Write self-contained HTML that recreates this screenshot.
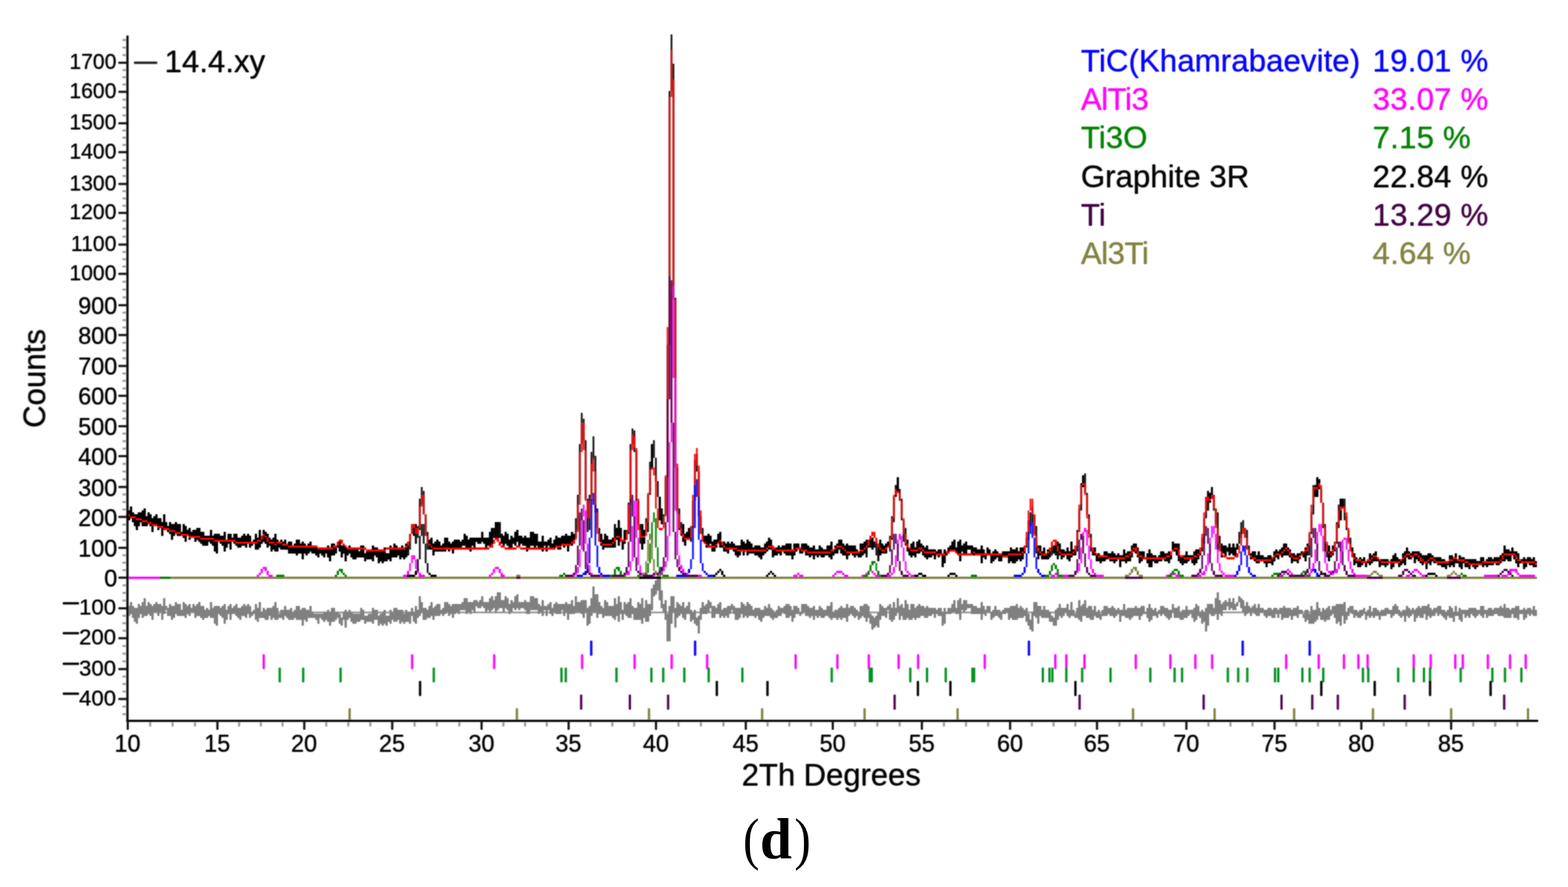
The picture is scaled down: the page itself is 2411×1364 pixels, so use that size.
<!DOCTYPE html>
<html lang="en"><head><meta charset="utf-8"><title>XRD Rietveld refinement (d)</title>
<style>html,body{margin:0;padding:0;background:#fff}svg{display:block}</style></head>
<body>
<svg width="2411" height="1364" viewBox="0 0 2411 1364">
<rect width="2411" height="1364" fill="#fff"/>
<defs><filter id="soft" x="0" y="0" width="100%" height="100%" filterUnits="userSpaceOnUse" color-interpolation-filters="sRGB"><feGaussianBlur in="SourceGraphic" stdDeviation="0.8" result="b"/><feComponentTransfer in="SourceGraphic" result="s"><feFuncA type="linear" slope="0.6"/></feComponentTransfer><feMerge><feMergeNode in="b"/><feMergeNode in="s"/></feMerge></filter></defs>
<g filter="url(#soft)">
<g fill="none" stroke-linejoin="round" stroke-linecap="butt">
<path d="M196.5,788H197V791H196.5ZM197,785H200V800H197ZM200,779H203V797H200ZM203,788H206V803H203ZM206,791H209V809H206ZM209,791H212V815H209ZM212,788H215V809H212ZM215,788H218V803H215ZM218,785H221V809H218ZM221,782H224V809H221ZM224,794H227V809H224ZM227,788H230V806H227ZM230,791H233V809H230ZM233,797H236V818H233ZM236,794H239V806H236ZM239,791H242V806H239ZM242,797H245V815H242ZM245,797H248V809H245ZM248,803H251V824H248ZM251,791H254V815H251ZM254,803H257V812H254ZM257,809H260V818H257ZM260,803H263V821H260ZM263,806H266V830H263ZM266,806H269V824H266ZM269,803H272V821H269ZM272,806H278V824H272ZM278,818H281V824H278ZM281,806H284V827H281ZM284,809H287V833H284ZM287,815H290V824H287ZM290,812H293V830H290ZM293,818H296V824H293ZM296,815H299V824H296ZM299,815H302V833H299ZM302,812H305V830H302ZM305,812H308V833H305ZM308,818H311V836H308ZM311,818H314V839H311ZM314,824H320V839H314ZM320,824H323V833H320ZM323,815H326V836H323ZM326,824H329V839H326ZM329,821H332V848H329ZM332,821H335V851H332ZM335,821H338V833H335ZM338,824H341V836H338ZM341,824H344V839H341ZM344,818H347V848H344ZM347,830H350V842H347ZM350,821H353V836H350ZM353,821H356V845H353ZM356,827H359V833H356ZM359,821H362V836H359ZM362,821H365V839H362ZM365,827H371V842H365ZM371,824H374V839H371ZM374,821H377V839H374ZM377,824H380V842H377ZM380,821H383V836H380ZM383,824H386V842H383ZM386,833H389V839H386ZM389,830H392V836H389ZM392,821H395V845H392ZM395,827H398V845H395ZM398,815H401V842H398ZM401,824H404V836H401ZM404,815H407V833H404ZM407,818H410V836H407ZM410,821H413V842H410ZM413,827H416V839H413ZM416,830H419V848H416ZM419,827H422V845H419ZM422,821H425V848H422ZM425,830H428V848H425ZM428,836H431V842H428ZM431,830H434V845H431ZM434,833H437V845H434ZM437,830H440V845H437ZM440,836H443V845H440ZM443,833H449V851H443ZM449,839H452V851H449ZM452,836H455V851H452ZM455,830H458V854H455ZM458,830H461V851H458ZM461,836H464V851H461ZM464,833H467V860H464ZM467,836H470V851H467ZM470,839H473V854H470ZM473,836H476V851H473ZM476,833H479V848H476ZM479,842H485V851H479ZM485,842H488V854H485ZM488,845H491V857H488ZM491,845H494V851H491ZM494,845H497V854H494ZM497,842H500V857H497ZM500,842H503V851H500ZM503,839H506V857H503ZM506,842H509V863H506ZM509,836H515V854H509ZM515,839H518V851H515ZM518.2,836H520.8V842H518.2ZM521,833H524V848H521ZM524,839H527V857H524ZM527,836H530V851H527ZM530,839H533V863H530ZM533,842H536V854H533ZM536,839H539V851H536ZM539,842H542V857H539ZM542,845H548V860H542ZM548,845H551V857H548ZM551,848H554V857H551ZM554,839H560V857H554ZM560,851H563V863H560ZM563,848H566V860H563ZM566,845H569V860H566ZM569,848H572V860H569ZM572,839H575V863H572ZM575,842H578V854H575ZM578,842H581V857H578ZM581,848H584V866H581ZM584,848H587V863H584ZM587,845H590V866H587ZM590,842H593V863H590ZM593,851H596V863H593ZM596,851H599V860H596ZM599,839H602V863H599ZM602,842H605V857H602ZM605,836H608V857H605ZM608,839H611V857H608ZM611,842H614V854H611ZM614,842H617V860H614ZM617,839H620V857H617ZM620,845H623V860H620ZM623,836H626V857H623ZM626.2,836H628.8V854H626.2ZM629.5,821H631.5V845H629.5ZM632.5,806H634.5V821H632.5ZM635.2,806H637.8V824H635.2ZM638.2,806H640.8V836H638.2ZM641.5,809H643.5V827H641.5ZM644.5,767H646.5V815H644.5ZM647.5,749H649.5V776H647.5ZM650.5,755H652.5V791H650.5ZM653.5,791H655.5V824H653.5ZM656.5,818H658.5V845H656.5ZM659,830H662V845H659ZM662,827H665V845H662ZM665,836H668V854H665ZM668,833H671V848H668ZM671,830H674V848H671ZM674,833H677V848H674ZM677,839H680V848H677ZM680,836H683V848H680ZM683,827H686V848H683ZM686,827H689V842H686ZM689,833H692V848H689ZM692,836H695V845H692ZM695,833H698V851H695ZM698,830H707V845H698ZM707,833H710V842H707ZM710,830H713V839H710ZM713,821H716V839H713ZM716,824H719V845H716ZM719,830H722V842H719ZM722,827H725V848H722ZM725,827H728V839H725ZM728,827H731V842H728ZM731,827H734V833H731ZM734,827H740V836H734ZM740,818H743V833H740ZM743,827H746V836H743ZM746,827H749V845H746ZM749,827H752V839H749ZM752,818H755V842H752ZM755,812H758V836H755ZM758.2,812H760.8V827H758.2ZM761,803H767V827H761ZM767.2,803H769.8V827H767.2ZM770,821H773V836H770ZM773,824H776V842H773ZM776,818H779V836H776ZM779,821H782V839H779ZM782,830H785V845H782ZM785,824H788V845H785ZM788,827H791V836H788ZM791,818H794V839H791ZM794,815H797V833H794ZM797,824H800V839H797ZM800,824H803V836H800ZM803,827H806V839H803ZM806,824H809V839H806ZM809,827H812V848H809ZM812,827H815V845H812ZM815,818H821V839H815ZM821,821H824V842H821ZM824,821H827V839H824ZM827,833H830V845H827ZM830,833H833V842H830ZM833,824H836V848H833ZM836,833H839V839H836ZM839,833H842V848H839ZM842,830H845V839H842ZM845,827H848V845H845ZM848,836H851V845H848ZM851,830H854V842H851ZM854,824H857V842H854ZM857,827H863V845H857ZM863,824H866V836H863ZM866,824H869V842H866ZM869,821H872V836H869ZM872,824H875V848H872ZM875,824H878V839H875ZM878,818H881V839H878ZM881,821H884V833H881ZM884.5,797H886.5V827H884.5ZM887.5,761H889.5V815H887.5ZM890.5,683H892.5V761H890.5ZM893.5,635H895.5V683H893.5ZM896.5,644H898.5V677H896.5ZM899.5,677H901.5V767H899.5ZM902.5,767H904.5V818H902.5ZM905.5,761H907.5V815H905.5ZM908.5,695H910.5V764H908.5ZM911.5,671H913.5V707H911.5ZM914.5,701H916.5V788H914.5ZM917.5,782H919.5V812H917.5ZM920.5,812H922.5V833H920.5ZM923,821H926V839H923ZM926,830H929V845H926ZM929,821H932V842H929ZM932,824H935V842H932ZM935,830H941V842H935ZM941,827H944V842H941ZM944.2,806H946.8V842H944.2ZM947,812H950V830H947ZM950,800H953V839H950ZM953,812H956V830H953ZM956,830H959V845H956ZM959,815H962V836H959ZM962.5,815H964.5V830H962.5ZM965.5,773H967.5V821H965.5ZM968.5,683H970.5V773H968.5ZM971.5,659H973.5V683H971.5ZM974.5,662H976.5V695H974.5ZM977.5,692H979.5V770H977.5ZM980.5,770H982.5V806H980.5ZM983.5,806H985.5V836H983.5ZM986,806H989V845H986ZM989,815H992V836H989ZM992.5,797H994.5V818H992.5ZM995.5,761H997.5V818H995.5ZM998.5,710H1000.5V761H998.5ZM1001,683H1004V719H1001ZM1004.5,677H1006.5V704H1004.5ZM1007.5,704H1009.5V740H1007.5ZM1010.5,740H1012.5V764H1010.5ZM1013,764H1016V800H1013ZM1016.2,782H1018.8V806H1016.2ZM1019.5,791H1021.5V806H1019.5ZM1022.5,734H1024.5V791H1022.5ZM1025.5,530H1027.5V734H1025.5ZM1028.5,140H1030.5V530H1028.5ZM1031.5,53H1033.5V140H1031.5ZM1034.5,98H1036.5V458H1034.5ZM1037.5,458H1039.5V719H1037.5ZM1040.5,719H1042.5V788H1040.5ZM1043.5,782H1045.5V815H1043.5ZM1046.5,803H1048.5V824H1046.5ZM1049,806H1052V833H1049ZM1052,821H1055V839H1052ZM1055,818H1058V830H1055ZM1058,812H1061V830H1058ZM1061.5,809H1063.5V833H1061.5ZM1064.5,770H1066.5V812H1064.5ZM1067.5,707H1069.5V770H1067.5ZM1070.5,698H1072.5V725H1070.5ZM1073.5,725H1075.5V794H1073.5ZM1076.5,794H1078.5V821H1076.5ZM1079.5,812H1081.5V833H1079.5ZM1082,824H1085V836H1082ZM1085,824H1088V842H1085ZM1088,821H1091V839H1088ZM1091,824H1094V836H1091ZM1094,833H1097V848H1094ZM1097,830H1100V848H1097ZM1100,830H1103V842H1100ZM1103,821H1106V836H1103ZM1106,818H1109V842H1106ZM1109.2,833H1111.8V842H1109.2ZM1112,833H1115V848H1112ZM1115,836H1118V848H1115ZM1118,833H1121V851H1118ZM1121,836H1124V845H1121ZM1124,833H1127V842H1124ZM1127,836H1130V848H1127ZM1130,839H1133V854H1130ZM1133,839H1136V857H1133ZM1136,839H1139V854H1136ZM1139,830H1142V848H1139ZM1142,833H1145V854H1142ZM1145,836H1148V848H1145ZM1148,830H1151V854H1148ZM1151,833H1154V851H1151ZM1154,836H1157V851H1154ZM1157,842H1160V851H1157ZM1160,839H1166V854H1160ZM1166,839H1169V857H1166ZM1169,842H1172V860H1169ZM1172,842H1175V854H1172ZM1175,836H1178V851H1175ZM1178,833H1181V848H1178ZM1181,827H1184V845H1181ZM1184,830H1187V845H1184ZM1187,839H1190V857H1187ZM1190,842H1196V854H1190ZM1196,839H1199V851H1196ZM1199,842H1202V854H1199ZM1202,839H1205V845H1202ZM1205,839H1208V851H1205ZM1208,836H1217V854H1208ZM1217,845H1220V860H1217ZM1220,836H1223V854H1220ZM1223,836H1226V848H1223ZM1226,836H1229V845H1226ZM1229,842H1232V851H1229ZM1232,836H1235V851H1232ZM1235,836H1238V848H1235ZM1238,836H1241V854H1238ZM1241,839H1244V854H1241ZM1244,842H1247V857H1244ZM1247,842H1250V854H1247ZM1250,839H1253V860H1250ZM1253,845H1256V854H1253ZM1256,845H1259V857H1256ZM1259,839H1262V854H1259ZM1262,842H1265V857H1262ZM1265,845H1268V857H1265ZM1268,845H1271V854H1268ZM1271,839H1274V854H1271ZM1274,839H1277V857H1274ZM1277,833H1280V860H1277ZM1280,845H1283V854H1280ZM1283,839H1286V851H1283ZM1286,836H1289V851H1286ZM1289,830H1292V845H1289ZM1292,830H1295V851H1292ZM1295,836H1298V854H1295ZM1298,839H1301V854H1298ZM1301,836H1304V860H1301ZM1304,839H1307V854H1304ZM1307,839H1310V851H1307ZM1310,839H1313V854H1310ZM1313,839H1316V857H1313ZM1316,845H1319V854H1316ZM1319,848H1322V857H1319ZM1322,836H1325V857H1322ZM1325,836H1328V854H1325ZM1328,833H1331V851H1328ZM1331.2,830H1333.8V857H1331.2ZM1334.2,830H1336.8V842H1334.2ZM1337.2,830H1339.8V842H1337.2ZM1340,827H1343V845H1340ZM1343.2,833H1345.8V842H1343.2ZM1346.5,833H1348.5V854H1346.5ZM1349.2,839H1351.8V863H1349.2ZM1352,830H1355V854H1352ZM1355,836H1358V851H1355ZM1358,839H1361V851H1358ZM1361,836H1364V851H1361ZM1364,833H1367V839H1364ZM1367.5,824H1369.5V848H1367.5ZM1370.5,794H1372.5V830H1370.5ZM1373.5,764H1375.5V803H1373.5ZM1376.2,746H1378.8V764H1376.2ZM1379,734H1382V755H1379ZM1382.5,752H1384.5V770H1382.5ZM1385.5,767H1387.5V800H1385.5ZM1388.5,800H1390.5V833H1388.5ZM1391.5,812H1393.5V839H1391.5ZM1394.2,830H1396.8V848H1394.2ZM1397,842H1400V854H1397ZM1400,836H1403V857H1400ZM1403,833H1406V854H1403ZM1406,842H1409V857H1406ZM1409,833H1412V851H1409ZM1412,830H1415V851H1412ZM1415,836H1418V848H1415ZM1418,839H1421V854H1418ZM1421,842H1424V857H1421ZM1424,839H1427V860H1424ZM1427,845H1433V857H1427ZM1433,845H1436V854H1433ZM1436,845H1439V860H1436ZM1439,848H1442V854H1439ZM1442,845H1445V857H1442ZM1445,845H1448V854H1445ZM1448,851H1451V872H1448ZM1451,845H1454V866H1451ZM1454,851H1457V854H1454ZM1457,842H1460V851H1457ZM1460,839H1463V848H1460ZM1463,833H1466V845H1463ZM1466,830H1469V845H1466ZM1469,842H1472V851H1469ZM1472,833H1475V851H1472ZM1475,830H1478V863H1475ZM1478,839H1481V848H1478ZM1481,836H1484V851H1481ZM1484,833H1487V851H1484ZM1487,839H1493V845H1487ZM1493,839H1496V851H1493ZM1496,842H1499V854H1496ZM1499,842H1502V851H1499ZM1502,845H1508V854H1502ZM1508,839H1511V866H1508ZM1511,845H1514V857H1511ZM1514,851H1517V860H1514ZM1517,842H1520V851H1517ZM1520,845H1523V854H1520ZM1523,851H1526V866H1523ZM1526,848H1529V863H1526ZM1529,845H1532V860H1529ZM1532,848H1535V857H1532ZM1535,851H1541V863H1535ZM1541,848H1547V857H1541ZM1547,848H1550V854H1547ZM1550,848H1553V866H1550ZM1553,842H1556V863H1553ZM1556,845H1562V866H1556ZM1562,842H1565V863H1562ZM1565,848H1568V860H1565ZM1568,842H1571V863H1568ZM1571,842H1574V860H1571ZM1574.2,842H1576.8V851H1574.2ZM1577.5,827H1579.5V842H1577.5ZM1580.5,800H1582.5V830H1580.5ZM1583.5,788H1585.5V809H1583.5ZM1586.5,779H1588.5V803H1586.5ZM1589.5,791H1591.5V821H1589.5ZM1592.5,809H1594.5V851H1592.5ZM1595.2,839H1597.8V860H1595.2ZM1598,839H1601V854H1598ZM1601,848H1604V860H1601ZM1604,842H1607V860H1604ZM1607,851H1610V860H1607ZM1610,845H1613V860H1610ZM1613.2,845H1615.8V857H1613.2ZM1616.5,842H1618.5V854H1616.5ZM1619,839H1622V851H1619ZM1622.2,836H1624.8V854H1622.2ZM1625.2,833H1627.8V860H1625.2ZM1628,836H1631V854H1628ZM1631,845H1634V860H1631ZM1634,845H1637V857H1634ZM1637,848H1640V854H1637ZM1640,842H1643V860H1640ZM1643,848H1646V863H1643ZM1646,833H1649V857H1646ZM1649,845H1652V854H1649ZM1652.2,845H1654.8V854H1652.2ZM1655.5,815H1657.5V848H1655.5ZM1658.5,782H1660.5V818H1658.5ZM1661.5,743H1663.5V785H1661.5ZM1664,731H1667V749H1664ZM1667.5,728H1669.5V758H1667.5ZM1670.5,758H1672.5V791H1670.5ZM1673.5,791H1675.5V821H1673.5ZM1676.5,821H1678.5V848H1676.5ZM1679.2,842H1681.8V854H1679.2ZM1682,842H1685V854H1682ZM1685,851H1691V863H1685ZM1691,857H1694V866H1691ZM1694,854H1697V863H1694ZM1697,848H1700V863H1697ZM1700,848H1703V860H1700ZM1703,851H1706V857H1703ZM1706,851H1709V863H1706ZM1709,848H1712V863H1709ZM1712,851H1715V866H1712ZM1715,854H1718V863H1715ZM1718,851H1721V860H1718ZM1721,854H1724V872H1721ZM1724,854H1727V863H1724ZM1727,845H1730V863H1727ZM1730,851H1733V866H1730ZM1733,848H1739V863H1733ZM1739.2,839H1741.8V857H1739.2ZM1742,836H1745V848H1742ZM1745,836H1748V851H1745ZM1748.2,842H1750.8V857H1748.2ZM1751,848H1754V866H1751ZM1754,848H1757V863H1754ZM1757,848H1760V860H1757ZM1760,857H1763V860H1760ZM1763,851H1766V866H1763ZM1766,845H1769V872H1766ZM1769,851H1772V872H1769ZM1772,854H1775V863H1772ZM1775,854H1778V866H1775ZM1778,860H1781V866H1778ZM1781,854H1784V863H1781ZM1784,848H1787V863H1784ZM1787,848H1790V860H1787ZM1790,851H1796V863H1790ZM1796,848H1799V866H1796ZM1799,848H1802V860H1799ZM1802,833H1805V848H1802ZM1805,836H1808V848H1805ZM1808,836H1811V854H1808ZM1811.2,836H1813.8V863H1811.2ZM1814,854H1817V866H1814ZM1817,854H1820V869H1817ZM1820,854H1823V866H1820ZM1823,848H1826V866H1823ZM1826,854H1829V863H1826ZM1829,854H1832V860H1829ZM1832,854H1835V866H1832ZM1835,848H1838V869H1835ZM1838,845H1841V866H1838ZM1841,845H1844V860H1841ZM1844.2,848H1846.8V854H1844.2ZM1847.5,827H1849.5V848H1847.5ZM1850.5,797H1852.5V836H1850.5ZM1853.5,764H1855.5V797H1853.5ZM1856.2,755H1858.8V785H1856.2ZM1859,758H1862V773H1859ZM1862.2,749H1864.8V767H1862.2ZM1865.5,761H1867.5V785H1865.5ZM1868.5,782H1870.5V806H1868.5ZM1871.5,788H1873.5V845H1871.5ZM1874.5,824H1876.5V845H1874.5ZM1877.2,836H1879.8V857H1877.2ZM1880,839H1883V851H1880ZM1883,839H1886V854H1883ZM1886,842H1889V848H1886ZM1889,836H1892V854H1889ZM1892,842H1895V851H1892ZM1895,836H1898V854H1895ZM1898,842H1901V854H1898ZM1901,836H1904V845H1901ZM1904.5,818H1906.5V836H1904.5ZM1907.5,803H1909.5V827H1907.5ZM1910.5,800H1912.5V815H1910.5ZM1913.5,812H1915.5V827H1913.5ZM1916.5,815H1918.5V845H1916.5ZM1919.5,839H1921.5V854H1919.5ZM1922,851H1925V860H1922ZM1925,848H1928V857H1925ZM1928,848H1931V863H1928ZM1931,854H1934V866H1931ZM1934,848H1937V866H1934ZM1937,854H1943V860H1937ZM1943,857H1946V866H1943ZM1946,857H1949V872H1946ZM1949,854H1955V866H1949ZM1955,857H1958V869H1955ZM1958,848H1961V863H1958ZM1961,845H1964V857H1961ZM1964,848H1967V860H1964ZM1967,845H1970V854H1967ZM1970,842H1973V857H1970ZM1973,836H1979V854H1973ZM1979,842H1982V854H1979ZM1982,845H1985V857H1982ZM1985,851H1988V866H1985ZM1988,851H1991V863H1988ZM1991,854H1994V863H1991ZM1994,851H1997V866H1994ZM1997,851H2000V860H1997ZM2000,848H2003V854H2000ZM2003,848H2006V857H2003ZM2006,842H2009V863H2006ZM2009.2,836H2011.8V854H2009.2ZM2012.5,821H2014.5V854H2012.5ZM2015.5,788H2017.5V821H2015.5ZM2018.5,746H2020.5V791H2018.5ZM2021,746H2024V764H2021ZM2024,734H2027V764H2024ZM2027,737H2030V752H2027ZM2030.5,752H2032.5V773H2030.5ZM2033.5,773H2035.5V812H2033.5ZM2036.5,806H2038.5V848H2036.5ZM2039.5,836H2041.5V857H2039.5ZM2042,839H2045V863H2042ZM2045,848H2048V857H2045ZM2048.2,839H2050.8V854H2048.2ZM2051.5,833H2053.5V848H2051.5ZM2054.5,803H2056.5V836H2054.5ZM2057.5,776H2059.5V812H2057.5ZM2060,767H2063V800H2060ZM2063,767H2066V782H2063ZM2066.5,767H2068.5V800H2066.5ZM2069.5,794H2071.5V815H2069.5ZM2072.5,815H2074.5V833H2072.5ZM2075.5,827H2077.5V845H2075.5ZM2078.2,842H2080.8V857H2078.2ZM2081,851H2084V869H2081ZM2084,857H2087V866H2084ZM2087,860H2090V872H2087ZM2090,857H2093V872H2090ZM2093,860H2096V869H2093ZM2096,857H2099V866H2096ZM2099,863H2102V872H2099ZM2102,860H2105V866H2102ZM2105,851H2108V869H2105ZM2108,854H2111V866H2108ZM2111,851H2114V863H2111ZM2114,848H2117V863H2114ZM2117,857H2120V863H2117ZM2120,860H2123V872H2120ZM2123,860H2129V869H2123ZM2129,860H2132V872H2129ZM2132,860H2135V869H2132ZM2135,863H2138V866H2135ZM2138,860H2141V875H2138ZM2141,854H2144V872H2141ZM2144,851H2147V866H2144ZM2147,857H2150V866H2147ZM2150,860H2153V872H2150ZM2153,860H2156V869H2153ZM2156,851H2159V866H2156ZM2159,848H2162V869H2159ZM2162,842H2165V857H2162ZM2165,848H2168V860H2165ZM2168,851H2171V860H2168ZM2171,848H2174V857H2171ZM2174,848H2177V866H2174ZM2177,848H2180V860H2177ZM2180,848H2183V863H2180ZM2183,851H2186V866H2183ZM2186,854H2189V869H2186ZM2189,854H2192V866H2189ZM2192,854H2195V875H2192ZM2195,851H2198V866H2195ZM2198,851H2201V869H2198ZM2201,854H2204V863H2201ZM2204,857H2210V866H2204ZM2210,857H2216V869H2210ZM2216,860H2222V872H2216ZM2222,863H2225V875H2222ZM2225,863H2228V869H2225ZM2228,854H2231V872H2228ZM2231,854H2234V869H2231ZM2234,857H2237V872H2234ZM2237,851H2240V866H2237ZM2240,860H2243V866H2240ZM2243,854H2246V872H2243ZM2246,857H2249V875H2246ZM2249,857H2252V866H2249ZM2252,860H2258V872H2252ZM2258,860H2261V875H2258ZM2261,860H2264V869H2261ZM2264,860H2267V872H2264ZM2267,860H2270V875H2267ZM2270,863H2273V872H2270ZM2273,863H2276V869H2273ZM2276,857H2279V869H2276ZM2279,857H2282V872H2279ZM2282,863H2285V869H2282ZM2285,860H2288V872H2285ZM2288,857H2294V869H2288ZM2294,860H2297V869H2294ZM2297,857H2300V866H2297ZM2300,857H2306V869H2300ZM2306,854H2309V866H2306ZM2309,851H2312V863H2309ZM2312,839H2315V863H2312ZM2315,845H2318V860H2315ZM2318,845H2321V863H2318ZM2321,848H2324V863H2321ZM2324,842H2327V854H2324ZM2327,848H2330V860H2327ZM2330,848H2333V866H2330ZM2333,851H2336V872H2333ZM2336,860H2342V866H2336ZM2342,857H2345V875H2342ZM2345,860H2348V872H2345ZM2348,857H2351V866H2348ZM2351,857H2354V869H2351ZM2354,860H2357V869H2354ZM2357,857H2360V872H2357ZM2360,863H2363V872H2360Z" fill="#000" stroke="none"/>
<path d="M194,791H200V794H194ZM200,794H209V797H200ZM209,797H218V800H209ZM218,800H227V803H218ZM227,803H233V806H227ZM233,806H242V809H233ZM242,809H251V812H242ZM251,812H260V815H251ZM260,815H269V818H260ZM269,818H278V821H269ZM278,821H290V824H278ZM290,824H308V827H290ZM308,827H329V830H308ZM329,830H362V833H329ZM362,833H395V836H362ZM395,830H401V833H395ZM401,824H404V830H401ZM404,821H407V824H404ZM407,824H410V827H407ZM410,827H413V833H410ZM413,833H422V836H413ZM422,836H425V839H422ZM425,833H434V836H425ZM434,836H443V839H434ZM443,839H488V842H443ZM488,842H512V845H488ZM512,839H518V842H512ZM518,833H521V839H518ZM521,830H524V833H521ZM524,830H527V836H524ZM527,836H530V839H527ZM530,839H533V842H530ZM533,842H563V845H533ZM563,845H593V848H563ZM593,842H623V845H593ZM623,839H626V842H623ZM626,833H629V839H626ZM629.5,821H631.5V833H629.5ZM632.5,806H634.5V821H632.5ZM635,806H638V812H635ZM638.2,812H640.8V821H638.2ZM641.2,812H643.8V821H641.2ZM644.5,779H646.5V812H644.5ZM647.5,761H649.5V779H647.5ZM650.5,761H652.5V791H650.5ZM653.5,791H655.5V824H653.5ZM656.5,824H658.5V836H656.5ZM659,836H662V839H659ZM662,839H665V842H662ZM665,842H752V845H665ZM752,839H755V842H752ZM755,836H758V842H755ZM758,830H761V836H758ZM761,827H764V830H761ZM764,827H767V833H764ZM767,833H770V839H767ZM770,839H776V842H770ZM776,842H794V845H776ZM794,839H800V842H794ZM800,842H854V845H800ZM854,839H863V842H854ZM863,836H878V839H863ZM878,833H881V836H878ZM881,830H884V836H881ZM884.5,818H886.5V830H884.5ZM887.5,776H889.5V818H887.5ZM890.5,695H892.5V776H890.5ZM893.5,650H895.5V695H893.5ZM896.5,650H898.5V692H896.5ZM899.5,692H901.5V770H899.5ZM902.5,770H904.5V797H902.5ZM905.5,770H907.5V797H905.5ZM908.5,713H910.5V770H908.5ZM911.5,704H913.5V725H911.5ZM914.5,725H916.5V788H914.5ZM917.5,788H919.5V821H917.5ZM920.5,821H922.5V833H920.5ZM923,833H926V836H923ZM926,836H941V839H926ZM941,833H944V836H941ZM944,827H947V833H944ZM947,824H953V827H947ZM953,827H956V833H953ZM956,830H962V833H956ZM962.5,818H964.5V830H962.5ZM965.5,776H967.5V818H965.5ZM968.5,692H970.5V776H968.5ZM971.5,668H973.5V692H971.5ZM974.5,671H976.5V689H974.5ZM977.5,689H979.5V767H977.5ZM980.5,767H982.5V815H980.5ZM983.5,815H985.5V827H983.5ZM986,824H992V827H986ZM992.5,803H994.5V824H992.5ZM995.5,758H997.5V803H995.5ZM998.5,722H1000.5V758H998.5ZM1001,719H1004V722H1001ZM1004.5,719H1006.5V731H1004.5ZM1007.5,731H1009.5V782H1007.5ZM1010.5,782H1012.5V812H1010.5ZM1013,812H1019V815H1013ZM1019.5,794H1021.5V812H1019.5ZM1022.5,731H1024.5V794H1022.5ZM1025.5,503H1027.5V731H1025.5ZM1028.5,149H1030.5V503H1028.5ZM1031.5,77H1033.5V149H1031.5ZM1034.5,122H1036.5V461H1034.5ZM1037.5,461H1039.5V713H1037.5ZM1040.5,713H1042.5V791H1040.5ZM1043.5,791H1045.5V812H1043.5ZM1046.2,812H1048.8V821H1046.2ZM1049,821H1052V827H1049ZM1052,827H1061V830H1052ZM1061.5,809H1063.5V827H1061.5ZM1064.5,761H1066.5V809H1064.5ZM1067.5,698H1069.5V761H1067.5ZM1070.5,689H1072.5V716H1070.5ZM1073.5,716H1075.5V785H1073.5ZM1076.5,785H1078.5V821H1076.5ZM1079.5,821H1081.5V833H1079.5ZM1082,833H1085V836H1082ZM1085,836H1088V839H1085ZM1088,839H1100V842H1088ZM1100,836H1103V839H1100ZM1103,833H1106V836H1103ZM1106,830H1109V833H1106ZM1109,833H1112V839H1109ZM1112,839H1115V842H1112ZM1115,842H1133V845H1115ZM1133,845H1178V848H1133ZM1178,842H1181V845H1178ZM1181,839H1187V842H1181ZM1187,839H1190V845H1187ZM1190,842H1193V845H1190ZM1193,845H1223V848H1193ZM1223,842H1232V845H1223ZM1232,845H1241V848H1232ZM1241,848H1277V851H1241ZM1277,845H1283V848H1277ZM1283,842H1286V845H1283ZM1286,839H1295V842H1286ZM1295,842H1298V845H1295ZM1298,845H1301V848H1298ZM1301,848H1322V851H1301ZM1322,845H1328V848H1322ZM1328,842H1331V845H1328ZM1331,839H1334V842H1331ZM1334.2,830H1336.8V839H1334.2ZM1337,824H1340V830H1337ZM1340,818H1343V824H1340ZM1343.2,818H1345.8V827H1343.2ZM1346.2,827H1348.8V836H1346.2ZM1349,836H1352V842H1349ZM1352,842H1355V845H1352ZM1355,845H1361V848H1355ZM1361,842H1364V845H1361ZM1364,839H1367V842H1364ZM1367.5,827H1369.5V839H1367.5ZM1370.5,797H1372.5V827H1370.5ZM1373.5,761H1375.5V797H1373.5ZM1376.2,752H1378.8V761H1376.2ZM1379,755H1382V758H1379ZM1382.5,758H1384.5V770H1382.5ZM1385.5,770H1387.5V797H1385.5ZM1388.5,797H1390.5V821H1388.5ZM1391.5,821H1393.5V836H1391.5ZM1394,836H1397V842H1394ZM1397,842H1400V845H1397ZM1400,845H1412V848H1400ZM1412,842H1418V845H1412ZM1418,845H1421V848H1418ZM1421,848H1439V851H1421ZM1439,851H1454V854H1439ZM1454,848H1460V851H1454ZM1460,845H1469V848H1460ZM1469,848H1472V851H1469ZM1472,851H1496V854H1472ZM1496,848H1499V851H1496ZM1499,851H1541V854H1499ZM1541,854H1550V857H1541ZM1550,851H1571V854H1550ZM1571,848H1574V851H1571ZM1574.2,839H1576.8V848H1574.2ZM1577.5,818H1579.5V839H1577.5ZM1580.5,785H1582.5V818H1580.5ZM1583.5,767H1585.5V785H1583.5ZM1586.5,767H1588.5V791H1586.5ZM1589.5,791H1591.5V824H1589.5ZM1592.5,824H1594.5V842H1592.5ZM1595,842H1598V848H1595ZM1598,848H1601V851H1598ZM1601,851H1610V854H1601ZM1610,848H1613V851H1610ZM1613,842H1616V848H1613ZM1616.2,833H1618.8V842H1616.2ZM1619,830H1622V833H1619ZM1622.2,830H1624.8V839H1622.2ZM1625.2,839H1627.8V848H1625.2ZM1628,848H1631V851H1628ZM1631,851H1649V854H1631ZM1649,848H1652V851H1649ZM1652.2,839H1654.8V848H1652.2ZM1655.5,818H1657.5V839H1655.5ZM1658.5,776H1660.5V818H1658.5ZM1661.5,746H1663.5V776H1661.5ZM1664,743H1667V746H1664ZM1667.5,743H1669.5V761H1667.5ZM1670.5,761H1672.5V797H1670.5ZM1673.5,797H1675.5V827H1673.5ZM1676.5,827H1678.5V842H1676.5ZM1679,842H1682V848H1679ZM1682,848H1685V851H1682ZM1685,851H1688V854H1685ZM1688,854H1703V857H1688ZM1703,857H1730V860H1703ZM1730,854H1736V857H1730ZM1736,851H1739V854H1736ZM1739,845H1742V851H1739ZM1742,842H1745V845H1742ZM1745,842H1748V848H1745ZM1748,848H1751V854H1748ZM1751,854H1757V857H1751ZM1757,857H1793V860H1757ZM1793,854H1799V857H1793ZM1799,848H1802V854H1799ZM1802,845H1805V848H1802ZM1805,842H1811V845H1805ZM1811.2,845H1813.8V854H1811.2ZM1814,854H1820V857H1814ZM1820,857H1835V860H1820ZM1835,854H1841V857H1835ZM1841,851H1844V854H1841ZM1844.2,842H1846.8V851H1844.2ZM1847.5,821H1849.5V842H1847.5ZM1850.5,788H1852.5V821H1850.5ZM1853.5,764H1855.5V788H1853.5ZM1856,764H1859V770H1856ZM1859,767H1862V770H1859ZM1862,761H1865V767H1862ZM1865.5,761H1867.5V782H1865.5ZM1868.5,782H1870.5V812H1868.5ZM1871.5,812H1873.5V836H1871.5ZM1874.5,836H1876.5V848H1874.5ZM1877,848H1880V854H1877ZM1880,854H1886V857H1880ZM1886,857H1898V860H1886ZM1898,854H1901V857H1898ZM1901,851H1904V857H1901ZM1904.5,839H1906.5V851H1904.5ZM1907.5,821H1909.5V839H1907.5ZM1910.2,812H1912.8V821H1910.2ZM1913.5,812H1915.5V827H1913.5ZM1916.5,827H1918.5V845H1916.5ZM1919.2,845H1921.8V854H1919.2ZM1922,854H1925V857H1922ZM1925,857H1931V860H1925ZM1931,860H1955V863H1931ZM1955,857H1958V860H1955ZM1958,854H1961V857H1958ZM1961,851H1970V854H1961ZM1970,848H1973V851H1970ZM1973,845H1976V848H1973ZM1976,842H1979V845H1976ZM1979,845H1982V848H1979ZM1982,848H1985V854H1982ZM1985,854H1988V857H1985ZM1988,857H1997V860H1988ZM1997,854H2000V857H1997ZM2000,851H2003V854H2000ZM2003,848H2006V851H2003ZM2006,845H2009V848H2006ZM2009.2,839H2011.8V848H2009.2ZM2012.5,818H2014.5V839H2012.5ZM2015.5,776H2017.5V818H2015.5ZM2018.5,749H2020.5V776H2018.5ZM2021,749H2027V752H2021ZM2027,743H2030V749H2027ZM2030.5,746H2032.5V773H2030.5ZM2033.5,773H2035.5V809H2033.5ZM2036.5,809H2038.5V833H2036.5ZM2039.5,833H2041.5V848H2039.5ZM2042,848H2045V851H2042ZM2045,851H2048V854H2045ZM2048,845H2051V851H2048ZM2051.5,833H2053.5V845H2051.5ZM2054.5,806H2056.5V833H2054.5ZM2057.5,785H2059.5V806H2057.5ZM2060,779H2063V785H2060ZM2063,779H2066V782H2063ZM2066.2,779H2068.8V788H2066.2ZM2069.5,788H2071.5V812H2069.5ZM2072.5,812H2074.5V836H2072.5ZM2075.5,836H2077.5V848H2075.5ZM2078.2,848H2080.8V857H2078.2ZM2081,857H2084V860H2081ZM2084,860H2093V863H2084ZM2093,863H2102V866H2093ZM2102,860H2108V863H2102ZM2108,857H2111V860H2108ZM2111,854H2117V857H2111ZM2117,857H2120V860H2117ZM2120,860H2123V863H2120ZM2123,863H2153V866H2123ZM2153,860H2156V863H2153ZM2156,857H2159V860H2156ZM2159,854H2162V857H2159ZM2162,851H2168V854H2162ZM2168,854H2174V857H2168ZM2174,851H2180V854H2174ZM2180,854H2183V857H2180ZM2183,857H2186V863H2183ZM2186,860H2189V863H2186ZM2189,863H2195V866H2189ZM2195,860H2198V863H2195ZM2198,857H2204V860H2198ZM2204,860H2207V863H2204ZM2207,863H2228V866H2207ZM2228,860H2234V863H2228ZM2234,857H2240V860H2234ZM2240,860H2252V863H2240ZM2252,863H2258V866H2252ZM2258,866H2279V869H2258ZM2279,863H2306V866H2279ZM2306,860H2309V863H2306ZM2309,854H2312V860H2309ZM2312,851H2330V854H2312ZM2330,854H2333V860H2330ZM2333,860H2339V863H2333ZM2339,863H2360V866H2339ZM2360,866H2363V869H2360Z" fill="#ff0000" stroke="none"/>
<line x1="196.5" y1="941.8" x2="2363.0" y2="941.8" stroke="#909090" stroke-width="2"/>
<path d="M194,935H197V938H194ZM197,932H200V947H197ZM200,926H203V944H200ZM203,932H206V950H203ZM206,935H209V956H206ZM209,935H212V959H209ZM212,929H215V950H212ZM215,932H218V944H215ZM218,926H221V950H218ZM221,920H224V947H221ZM224,932H227V947H224ZM227,926H230V944H227ZM230,929H233V947H230ZM233,932H236V953H233ZM236,929H239V941H236ZM239,926H242V941H239ZM242,929H245V947H242ZM245,929H248V941H245ZM248,932H251V953H248ZM251,920H254V944H251ZM254,932H257V938H254ZM257,935H260V947H257ZM260,929H263V947H260ZM263,932H266V953H263ZM266,932H269V950H266ZM269,926H272V944H269ZM272,929H278V947H272ZM278,938H281V947H278ZM281,926H284V947H281ZM284,929H287V950H284ZM287,932H290V944H287ZM290,929H293V947H290ZM293,935H296V941H293ZM296,929H299V941H296ZM299,932H302V950H299ZM302,929H305V947H302ZM305,926H308V947H305ZM308,932H311V950H308ZM311,932H314V953H311ZM314,938H317V950H314ZM317,935H320V950H317ZM320,938H323V947H320ZM323,926H326V950H323ZM326,935H329V950H326ZM329,932H332V959H329ZM332,932H335V962H332ZM335,932H338V944H335ZM338,935H341V947H338ZM341,932H344V950H341ZM344,929H347V959H344ZM347,938H350V953H347ZM350,932H353V944H350ZM353,929H356V953H353ZM356,935H359V944H356ZM359,932H362V944H359ZM362,929H365V947H362ZM365,935H368V950H365ZM368,935H371V953H368ZM371,932H374V947H371ZM374,929H377V947H374ZM377,932H380V950H377ZM380,929H383V944H380ZM383,932H386V950H383ZM386,941H389V947H386ZM389,938H392V944H389ZM392,929H395V953H392ZM395,935H398V956H395ZM398,926H401V950H398ZM401,941H404V950H401ZM404,935H407V950H404ZM407,938H410V953H407ZM410,935H413V953H410ZM413,935H416V947H413ZM416,935H419V953H416ZM419,932H422V950H419ZM422,926H425V953H422ZM425,935H428V953H425ZM428,944H431V950H428ZM431,938H434V950H431ZM434,938H437V953H434ZM437,932H440V947H437ZM440,938H443V950H440ZM443,938H446V953H443ZM446,935H449V953H446ZM449,941H452V953H449ZM452,938H455V950H452ZM455,932H461V953H455ZM461,938H464V953H461ZM464,935H467V962H464ZM467,935H470V953H467ZM470,938H473V956H470ZM473,938H476V950H473ZM476,932H479V950H476ZM479,941H482V950H479ZM482,944H485V950H482ZM485,944H488V953H485ZM488,944H491V959H488ZM491,944H494V950H491ZM494,944H497V953H494ZM497,941H500V956H497ZM500,941H503V953H500ZM503,938H506V956H503ZM506,941H509V962H506ZM509,935H515V956H509ZM515,941H518V953H515ZM518,941H521V950H518ZM521,944H524V959H521ZM524,950H527V962H524ZM527,941H530V953H527ZM530,938H533V965H530ZM533,941H536V953H533ZM536,938H539V950H536ZM539,941H542V956H539ZM542,944H548V959H542ZM548,944H554V956H548ZM554,935H557V953H554ZM557,938H560V953H557ZM560,947H563V959H560ZM563,947H566V956H563ZM566,944H572V956H566ZM572,935H575V959H572ZM575,938H581V953H575ZM581,947H584V962H581ZM584,944H587V959H584ZM587,941H590V962H587ZM590,938H593V959H590ZM593,947H596V962H593ZM596,947H599V956H596ZM599,938H602V959H599ZM602,941H605V953H602ZM605,935H611V956H605ZM611,938H614V953H611ZM614,938H617V959H614ZM617,938H620V956H617ZM620,944H623V959H620ZM623,938H626V956H623ZM626,941H629V956H626ZM629,941H632V959H629ZM632,935H635V947H632ZM635,941H638V956H635ZM638,932H641V959H638ZM641,938H644V950H641ZM644,917H647V947H644ZM647,926H650V941H647ZM650,935H656V953H650ZM656,938H659V950H656ZM659,932H662V950H659ZM662,926H665V947H662ZM665,935H668V953H665ZM668,932H671V947H668ZM671,929H677V947H671ZM677,938H680V944H677ZM680,935H683V947H680ZM683,926H686V944H683ZM686,926H689V941H686ZM689,929H692V947H689ZM692,932H695V944H692ZM695,929H698V950H695ZM698,929H701V944H698ZM701,929H704V941H701ZM704,929H707V944H704ZM707,929H710V938H707ZM710,926H713V938H710ZM713,920H716V938H713ZM716,920H719V944H716ZM719,926H722V941H719ZM722,926H725V944H722ZM725,926H728V938H725ZM728,923H731V941H728ZM731,923H734V932H731ZM734,926H737V935H734ZM737,923H740V935H737ZM740,917H743V932H740ZM743,926H746V935H743ZM746,926H749V941H746ZM749,926H752V938H749ZM752,920H755V941H752ZM755,917H758V938H755ZM758,923H761V935H758ZM761,917H764V941H761ZM764,911H767V938H764ZM767,911H770V935H767ZM770,923H773V935H770ZM773,923H776V941H773ZM776,917H779V935H776ZM779,920H782V938H779ZM782,929H785V944H782ZM785,923H788V941H785ZM788,926H791V935H788ZM791,917H794V938H791ZM794,914H797V935H794ZM797,926H800V938H797ZM800,926H806V935H800ZM806,923H809V938H806ZM809,926H815V944H809ZM815,917H821V938H815ZM821,920H827V938H821ZM827,929H830V944H827ZM830,932H833V941H830ZM833,923H836V947H833ZM836,932H839V938H836ZM839,932H842V947H839ZM842,929H845V938H842ZM845,926H848V944H845ZM848,935H851V947H848ZM851,929H854V941H851ZM854,926H857V944H854ZM857,929H863V944H857ZM863,929H866V938H863ZM866,929H869V947H866ZM869,926H872V941H869ZM872,929H875V953H872ZM875,929H878V944H875ZM878,923H881V944H878ZM881,932H884V944H881ZM884,917H887V941H884ZM887,926H893V941H887ZM893,923H896V944H893ZM896,923H899V950H896ZM899,923H902V941H899ZM902,935H905V962H902ZM905,932H908V959H905ZM908,920H911V947H908ZM911,902H914V941H911ZM914,914H917V941H914ZM917,914H920V950H917ZM920,926H923V944H920ZM923,932H926V944H923ZM926,935H929V950H926ZM929,923H932V947H929ZM932,926H935V947H932ZM935,932H941V947H935ZM941,932H944V950H941ZM944,920H947V953H944ZM947,929H950V947H947ZM950,917H953V956H950ZM953,926H956V944H953ZM956,938H959V953H956ZM959,926H962V944H959ZM962,929H965V947H962ZM965,926H968V950H965ZM968,920H971V950H968ZM971,932H974V944H971ZM974,935H980V953H974ZM980,926H983V953H980ZM983,929H986V953H983ZM986,920H989V959H986ZM989,935H992V950H989ZM992,923H995V956H992ZM995,929H998V956H995ZM998,929H1001V947H998ZM1001,905H1004V938H1001ZM1004,899H1007V917H1004ZM1007,893H1010V914H1007ZM1010,884H1013V908H1010ZM1013,890H1016V923H1013ZM1016,908H1019V935H1016ZM1019,929H1022V941H1019ZM1022,923H1025V953H1022ZM1025,944H1028V986H1025ZM1028,932H1031V986H1028ZM1031,917H1034V959H1031ZM1034,917H1037V941H1034ZM1037,935H1040V965H1037ZM1040,926H1043V950H1040ZM1043,929H1046V947H1043ZM1046,932H1049V944H1046ZM1049,926H1052V950H1049ZM1052,935H1055V953H1052ZM1055,932H1058V944H1055ZM1058,926H1061V944H1058ZM1061,938H1064V956H1061ZM1064,941H1067V953H1064ZM1067,938H1070V959H1067ZM1070,950H1073V962H1070ZM1073,947H1076V974H1073ZM1076,935H1079V953H1076ZM1079,926H1082V944H1079ZM1082,932H1085V944H1082ZM1085,929H1088V944H1085ZM1088,923H1091V941H1088ZM1091,926H1094V935H1091ZM1094,932H1100V950H1094ZM1100,935H1103V944H1100ZM1103,929H1106V944H1103ZM1106,926H1109V950H1106ZM1109,938H1112V947H1109ZM1112,935H1115V950H1112ZM1115,935H1118V947H1115ZM1118,932H1121V950H1118ZM1121,932H1124V944H1121ZM1124,929H1127V938H1124ZM1127,932H1130V944H1127ZM1130,935H1136V953H1130ZM1136,935H1139V950H1136ZM1139,926H1142V944H1139ZM1142,929H1145V950H1142ZM1145,932H1148V947H1145ZM1148,926H1151V950H1148ZM1151,929H1154V947H1151ZM1154,932H1157V947H1154ZM1157,938H1160V947H1157ZM1160,935H1163V950H1160ZM1163,935H1166V947H1163ZM1166,935H1169V953H1166ZM1169,938H1172V956H1169ZM1172,938H1175V950H1172ZM1175,932H1178V947H1175ZM1178,935H1181V947H1178ZM1181,929H1184V947H1181ZM1184,935H1187V950H1184ZM1187,938H1190V953H1187ZM1190,941H1193V950H1190ZM1193,938H1196V950H1193ZM1196,932H1199V947H1196ZM1199,935H1202V947H1199ZM1202,935H1205V941H1202ZM1205,932H1208V944H1205ZM1208,929H1214V950H1208ZM1214,932H1217V947H1214ZM1217,938H1220V956H1217ZM1220,932H1223V950H1220ZM1223,932H1226V944H1223ZM1226,935H1229V944H1226ZM1229,941H1232V947H1229ZM1232,929H1235V944H1232ZM1235,929H1238V941H1235ZM1238,929H1241V947H1238ZM1241,932H1244V947H1241ZM1244,935H1247V950H1244ZM1247,935H1250V947H1247ZM1250,932H1253V953H1250ZM1253,938H1256V947H1253ZM1256,938H1259V950H1256ZM1259,932H1262V947H1259ZM1262,935H1265V950H1262ZM1265,938H1268V950H1265ZM1268,938H1271V947H1268ZM1271,932H1274V947H1271ZM1274,932H1277V950H1274ZM1277,926H1280V953H1277ZM1280,941H1283V950H1280ZM1283,938H1286V950H1283ZM1286,938H1289V953H1286ZM1289,935H1292V950H1289ZM1292,932H1295V953H1292ZM1295,935H1301V950H1295ZM1301,929H1304V956H1301ZM1304,935H1307V947H1304ZM1307,932H1310V944H1307ZM1310,932H1313V947H1310ZM1313,935H1316V950H1313ZM1316,938H1319V947H1316ZM1319,941H1322V953H1319ZM1322,932H1325V950H1322ZM1325,932H1328V947H1325ZM1328,929H1331V950H1328ZM1331,929H1334V956H1331ZM1334,932H1337V950H1334ZM1337,944H1340V959H1337ZM1340,947H1343V968H1340ZM1343,950H1346V965H1343ZM1346,947H1349V962H1346ZM1349,941H1352V965H1349ZM1352,929H1355V953H1352ZM1355,932H1358V947H1355ZM1358,935H1361V947H1358ZM1361,935H1364V950H1361ZM1364,932H1367V938H1364ZM1367,929H1370V953H1367ZM1370,935H1373V956H1370ZM1373,926H1376V953H1373ZM1376,935H1379V947H1376ZM1379,920H1382V941H1379ZM1382,932H1385V953H1382ZM1385,929H1388V947H1385ZM1388,935H1391V953H1388ZM1391,923H1394V953H1391ZM1394,929H1397V950H1394ZM1397,938H1400V953H1397ZM1400,929H1403V953H1400ZM1403,929H1406V950H1403ZM1406,935H1409V953H1406ZM1409,932H1412V950H1409ZM1412,929H1415V950H1412ZM1415,932H1421V947H1415ZM1421,935H1424V950H1421ZM1424,932H1427V950H1424ZM1427,935H1433V947H1427ZM1433,935H1436V944H1433ZM1436,935H1439V950H1436ZM1439,938H1442V944H1439ZM1442,935H1448V947H1442ZM1448,941H1451V962H1448ZM1451,935H1454V959H1451ZM1454,941H1457V944H1454ZM1457,935H1463V944H1457ZM1463,929H1466V941H1463ZM1466,923H1469V941H1466ZM1469,935H1472V944H1469ZM1472,923H1475V944H1472ZM1475,920H1478V953H1475ZM1478,929H1481V938H1478ZM1481,923H1484V941H1481ZM1484,923H1487V938H1484ZM1487,929H1493V935H1487ZM1493,929H1496V944H1493ZM1496,932H1502V944H1496ZM1502,935H1508V944H1502ZM1508,926H1511V953H1508ZM1511,932H1514V944H1511ZM1514,938H1517V947H1514ZM1517,932H1523V941H1517ZM1523,941H1526V953H1523ZM1526,938H1529V950H1526ZM1529,932H1532V947H1529ZM1532,938H1535V947H1532ZM1535,938H1538V950H1535ZM1538,941H1541V953H1538ZM1541,938H1544V944H1541ZM1544,935H1547V944H1544ZM1547,935H1550V941H1547ZM1550,935H1553V953H1550ZM1553,932H1556V950H1553ZM1556,932H1562V953H1556ZM1562,929H1565V953H1562ZM1565,935H1568V950H1565ZM1568,932H1571V950H1568ZM1571,935H1574V950H1571ZM1574,938H1577V947H1574ZM1577,935H1580V956H1577ZM1580,944H1583V962H1580ZM1583,953H1586V968H1583ZM1586,941H1589V971H1586ZM1589,926H1592V947H1589ZM1592,926H1595V950H1592ZM1595,932H1598V959H1595ZM1598,932H1601V947H1598ZM1601,938H1604V950H1601ZM1604,932H1607V950H1604ZM1607,938H1613V950H1607ZM1613,941H1616V956H1613ZM1616,947H1619V956H1616ZM1619,950H1622V962H1619ZM1622,938H1625V962H1622ZM1625,935H1628V953H1625ZM1628,929H1631V947H1628ZM1631,935H1634V950H1631ZM1634,935H1637V947H1634ZM1637,935H1640V941H1637ZM1640,929H1643V947H1640ZM1643,938H1646V950H1643ZM1646,926H1649V947H1646ZM1649,938H1652V947H1649ZM1652,944H1655V950H1652ZM1655,935H1658V950H1655ZM1658,923H1661V953H1658ZM1661,932H1664V956H1661ZM1664,929H1667V947H1664ZM1667,923H1670V947H1667ZM1670,935H1673V950H1670ZM1673,932H1676V950H1673ZM1676,932H1679V953H1676ZM1679,938H1682V953H1679ZM1682,932H1685V947H1682ZM1685,941H1688V950H1685ZM1688,938H1691V950H1688ZM1691,944H1694V953H1691ZM1694,938H1697V947H1694ZM1697,932H1703V947H1697ZM1703,935H1706V944H1703ZM1706,935H1709V947H1706ZM1709,932H1712V947H1709ZM1712,935H1715V950H1712ZM1715,938H1718V947H1715ZM1718,935H1721V944H1718ZM1721,938H1724V956H1721ZM1724,938H1727V947H1724ZM1727,929H1730V947H1727ZM1730,938H1733V950H1730ZM1733,935H1736V950H1733ZM1736,935H1739V953H1736ZM1739,935H1742V950H1739ZM1742,935H1745V947H1742ZM1745,932H1748V947H1745ZM1748,935H1751V947H1748ZM1751,935H1754V953H1751ZM1754,932H1757V947H1754ZM1757,932H1760V944H1757ZM1760,941H1763V944H1760ZM1763,935H1766V950H1763ZM1766,929H1769V956H1766ZM1769,935H1772V953H1769ZM1772,938H1775V947H1772ZM1775,935H1778V947H1775ZM1778,941H1781V950H1778ZM1781,938H1784V944H1781ZM1784,932H1787V947H1784ZM1787,932H1790V944H1787ZM1790,935H1793V947H1790ZM1793,935H1796V950H1793ZM1796,938H1799V953H1796ZM1799,938H1802V950H1799ZM1802,929H1805V941H1802ZM1805,935H1811V950H1805ZM1811,932H1814V950H1811ZM1814,941H1817V953H1814ZM1817,938H1820V953H1817ZM1820,938H1823V950H1820ZM1823,932H1826V950H1823ZM1826,938H1829V947H1826ZM1829,938H1832V944H1829ZM1832,938H1835V950H1832ZM1835,935H1838V956H1835ZM1838,929H1841V953H1838ZM1841,932H1844V947H1841ZM1844,941H1847V950H1844ZM1847,938H1850V959H1847ZM1850,941H1853V956H1850ZM1853,935H1856V971H1853ZM1856,929H1859V962H1856ZM1859,929H1862V944H1859ZM1862,929H1865V947H1862ZM1865,935H1868V947H1865ZM1868,920H1871V944H1868ZM1871,911H1874V953H1871ZM1874,923H1877V944H1874ZM1877,929H1880V947H1877ZM1880,926H1883V938H1880ZM1883,923H1886V938H1883ZM1886,926H1889V932H1886ZM1889,920H1892V938H1889ZM1892,926H1895V935H1892ZM1895,920H1898V938H1895ZM1898,929H1901V938H1898ZM1901,926H1904V932H1901ZM1904,917H1907V926H1904ZM1907,920H1910V935H1907ZM1910,923H1913V941H1910ZM1913,932H1916V947H1913ZM1916,926H1919V944H1916ZM1919,932H1922V941H1919ZM1922,935H1925V947H1922ZM1925,932H1928V941H1925ZM1928,929H1931V944H1928ZM1931,935H1934V947H1931ZM1934,929H1937V947H1934ZM1937,935H1943V941H1937ZM1943,938H1946V947H1943ZM1946,938H1949V950H1946ZM1949,935H1955V947H1949ZM1955,938H1958V950H1955ZM1958,935H1961V950H1958ZM1961,935H1964V944H1961ZM1964,938H1967V950H1964ZM1967,935H1970V944H1967ZM1970,935H1973V953H1970ZM1973,932H1976V950H1973ZM1976,935H1982V950H1976ZM1982,935H1985V947H1982ZM1985,938H1988V953H1985ZM1988,935H1994V947H1988ZM1994,932H1997V950H1994ZM1997,938H2003V944H1997ZM2003,944H2006V950H2003ZM2006,938H2009V956H2006ZM2009,938H2012V953H2009ZM2012,944H2015V959H2012ZM2015,932H2018V959H2015ZM2018,938H2021V959H2018ZM2021,938H2024V956H2021ZM2024,926H2027V953H2024ZM2027,935H2030V947H2027ZM2030,941H2033V953H2030ZM2033,935H2036V953H2033ZM2036,938H2039V956H2036ZM2039,935H2042V953H2039ZM2042,932H2045V953H2042ZM2045,938H2048V947H2045ZM2048,932H2051V944H2048ZM2051,932H2054V950H2051ZM2054,929H2057V959H2054ZM2057,929H2060V956H2057ZM2060,929H2063V962H2060ZM2063,929H2066V947H2063ZM2066,926H2069V959H2066ZM2069,941H2072V953H2069ZM2072,935H2075V947H2072ZM2075,932H2078V941H2075ZM2078,932H2081V944H2078ZM2081,938H2084V950H2081ZM2084,938H2087V947H2084ZM2087,941H2090V950H2087ZM2090,938H2093V950H2090ZM2093,938H2096V947H2093ZM2096,935H2099V944H2096ZM2099,941H2102V953H2099ZM2102,938H2105V947H2102ZM2105,932H2108V950H2105ZM2108,941H2111V947H2108ZM2111,935H2114V950H2111ZM2114,935H2117V947H2114ZM2117,938H2120V947H2117ZM2120,941H2123V953H2120ZM2123,938H2129V947H2123ZM2129,935H2132V947H2129ZM2132,935H2135V944H2132ZM2135,938H2138V944H2135ZM2138,938H2141V950H2138ZM2141,932H2144V947H2141ZM2144,929H2147V944H2144ZM2147,932H2150V944H2147ZM2150,938H2153V947H2150ZM2153,941H2156V950H2153ZM2156,938H2159V947H2156ZM2159,938H2162V956H2159ZM2162,932H2165V947H2162ZM2165,935H2168V950H2165ZM2168,938H2171V947H2168ZM2171,935H2174V944H2171ZM2174,938H2177V956H2174ZM2177,935H2180V950H2177ZM2180,932H2183V947H2180ZM2183,935H2186V950H2183ZM2186,932H2189V950H2186ZM2189,932H2192V944H2189ZM2192,932H2195V953H2192ZM2195,929H2198V947H2195ZM2198,935H2201V950H2198ZM2201,938H2204V947H2201ZM2204,935H2207V947H2204ZM2207,935H2210V941H2207ZM2210,932H2213V947H2210ZM2213,932H2216V944H2213ZM2216,938H2219V947H2216ZM2219,938H2222V950H2219ZM2222,941H2225V953H2222ZM2225,938H2228V947H2225ZM2228,932H2231V950H2228ZM2231,935H2234V950H2231ZM2234,941H2237V956H2234ZM2237,932H2240V947H2237ZM2240,941H2243V947H2240ZM2243,935H2246V953H2243ZM2246,938H2249V956H2246ZM2249,938H2252V944H2249ZM2252,938H2255V950H2252ZM2255,938H2258V947H2255ZM2258,935H2261V950H2258ZM2261,935H2264V944H2261ZM2264,935H2267V947H2264ZM2267,935H2270V950H2267ZM2270,938H2273V947H2270ZM2273,938H2276V944H2273ZM2276,932H2279V947H2276ZM2279,932H2282V950H2279ZM2282,938H2285V944H2282ZM2285,938H2288V950H2285ZM2288,935H2294V947H2288ZM2294,938H2297V947H2294ZM2297,935H2303V944H2297ZM2303,935H2306V947H2303ZM2306,932H2309V947H2306ZM2309,935H2312V947H2309ZM2312,929H2315V950H2312ZM2315,935H2321V950H2315ZM2321,938H2324V950H2321ZM2324,935H2327V944H2324ZM2327,935H2330V950H2327ZM2330,932H2333V950H2330ZM2333,932H2336V953H2333ZM2336,938H2342V944H2336ZM2342,935H2345V953H2342ZM2345,938H2348V950H2345ZM2348,935H2351V944H2348ZM2351,935H2354V947H2351ZM2354,938H2357V944H2354ZM2357,932H2360V947H2357ZM2360,938H2363V947H2360Z" fill="#808080" stroke="none"/>
<path d="M196.5,887H887V890H196.5ZM887,884H896V887H887ZM896,881H899V884H896ZM899,878H902V884H899ZM902.5,866H904.5V878H902.5ZM905.5,827H907.5V866H905.5ZM908.5,767H910.5V827H908.5ZM911.5,758H913.5V776H911.5ZM914.5,776H916.5V839H914.5ZM917.5,839H919.5V872H917.5ZM920.2,872H922.8V881H920.2ZM923,881H926V884H923ZM926,884H938V887H926ZM938,887H1040V890H938ZM1040,884H1055V887H1040ZM1055,881H1058V884H1055ZM1058,875H1061V881H1058ZM1061.5,860H1063.5V875H1061.5ZM1064.5,812H1066.5V860H1064.5ZM1067.5,746H1069.5V812H1067.5ZM1070.5,737H1072.5V764H1070.5ZM1073.5,764H1075.5V830H1073.5ZM1076.5,830H1078.5V866H1076.5ZM1079.5,866H1081.5V878H1079.5ZM1082,878H1085V881H1082ZM1085,881H1088V884H1085ZM1088,884H1100V887H1088ZM1100,887H1559V890H1100ZM1559,884H1571V887H1559ZM1571,881H1574V884H1571ZM1574.2,872H1576.8V881H1574.2ZM1577.5,851H1579.5V872H1577.5ZM1580.5,821H1582.5V851H1580.5ZM1583.5,803H1585.5V821H1583.5ZM1586.5,803H1588.5V827H1586.5ZM1589.5,827H1591.5V857H1589.5ZM1592.5,857H1594.5V875H1592.5ZM1595,875H1598V881H1595ZM1598,881H1601V884H1598ZM1601,884H1613V887H1601ZM1613,887H1892V890H1613ZM1892,884H1901V887H1892ZM1901,878H1904V884H1901ZM1904.2,869H1906.8V878H1904.2ZM1907.5,848H1909.5V869H1907.5ZM1910.2,839H1912.8V848H1910.2ZM1913.5,839H1915.5V854H1913.5ZM1916.5,854H1918.5V872H1916.5ZM1919.2,872H1921.8V881H1919.2ZM1922,881H1925V884H1922ZM1925,884H1931V887H1925ZM1931,887H2009V890H1931ZM2009,884H2012V887H2009ZM2012,881H2015V884H2012ZM2015,875H2018V881H2015ZM2018,875H2021V878H2018ZM2021,875H2024V881H2021ZM2024,881H2027V887H2024ZM2027,884H2030V887H2027ZM2030,887H2363V890H2030Z" fill="#0000ff" stroke="none"/>
<path d="M196.5,887H395V890H196.5ZM395,884H398V887H395ZM398,881H401V884H398ZM401,875H404V881H401ZM404,872H407V875H404ZM407,872H410V878H407ZM410,878H413V884H410ZM413,884H419V887H413ZM419,887H620V890H419ZM620,884H626V887H620ZM626,878H629V884H626ZM629.5,866H631.5V878H629.5ZM632.5,854H634.5V866H632.5ZM635,854H638V860H635ZM638.5,860H640.5V875H638.5ZM641,875H644V881H641ZM644,881H647V887H644ZM647,884H653V887H647ZM653,887H752V890H653ZM752,884H755V887H752ZM755,881H758V884H755ZM758,875H761V881H758ZM761,872H767V875H761ZM767,875H770V881H767ZM770,881H773V887H770ZM773,884H776V887H773ZM776,887H872V890H776ZM872,884H884V887H872ZM884,881H887V884H884ZM887.2,872H889.8V881H887.2ZM890.5,845H892.5V872H890.5ZM893.5,794H895.5V845H893.5ZM896.5,776H898.5V794H896.5ZM899.5,785H901.5V836H899.5ZM902.5,836H904.5V869H902.5ZM905.5,869H907.5V881H905.5ZM908,881H911V884H908ZM911,884H926V887H911ZM926,887H947V890H926ZM947,884H962V887H947ZM962,881H965V884H962ZM965,878H968V884H965ZM968.5,863H970.5V878H968.5ZM971.5,809H973.5V863H971.5ZM974.5,770H976.5V809H974.5ZM977.5,770H979.5V827H977.5ZM980.5,827H982.5V869H980.5ZM983.5,869H985.5V881H983.5ZM986,881H992V884H986ZM992,884H1007V887H992ZM1007,881H1016V884H1007ZM1016,878H1019V881H1016ZM1019,872H1022V878H1019ZM1022.2,863H1024.8V872H1022.2ZM1025.5,824H1027.5V863H1025.5ZM1028.5,680H1030.5V824H1028.5ZM1031.5,452H1033.5V680H1031.5ZM1034.5,440H1036.5V581H1034.5ZM1037.5,581H1039.5V785H1037.5ZM1040.5,785H1042.5V854H1040.5ZM1043.5,854H1045.5V869H1043.5ZM1046,869H1049V875H1046ZM1049,875H1052V881H1049ZM1052,881H1058V884H1052ZM1058,884H1079V887H1058ZM1079,887H1220V890H1079ZM1220,884H1226V887H1220ZM1226,881H1229V884H1226ZM1229,884H1235V887H1229ZM1235,887H1280V890H1235ZM1280,884H1283V887H1280ZM1283,881H1286V884H1283ZM1286,878H1295V881H1286ZM1295,881H1298V884H1295ZM1298,884H1304V887H1298ZM1304,887H1325V890H1304ZM1325,884H1331V887H1325ZM1331,881H1334V884H1331ZM1334,878H1337V881H1334ZM1337,875H1340V878H1337ZM1340,878H1343V881H1340ZM1343,881H1346V884H1343ZM1346,884H1370V887H1346ZM1370,881H1373V884H1370ZM1373.2,872H1375.8V881H1373.2ZM1376.5,854H1378.5V872H1376.5ZM1379.5,830H1381.5V854H1379.5ZM1382.2,821H1384.8V830H1382.2ZM1385.5,824H1387.5V842H1385.5ZM1388.5,842H1390.5V863H1388.5ZM1391.5,863H1393.5V878H1391.5ZM1394,878H1397V881H1394ZM1397,881H1400V884H1397ZM1400,884H1412V887H1400ZM1412,887H1616V890H1412ZM1616,884H1622V887H1616ZM1622,881H1625V884H1622ZM1625,884H1652V887H1625ZM1652,881H1655V884H1652ZM1655,878H1658V881H1655ZM1658.5,866H1660.5V878H1658.5ZM1661.5,842H1663.5V866H1661.5ZM1664.5,818H1666.5V842H1664.5ZM1667,812H1670V818H1667ZM1670.5,815H1672.5V839H1670.5ZM1673.5,839H1675.5V860H1673.5ZM1676.5,860H1678.5V875H1676.5ZM1679,875H1682V881H1679ZM1682,881H1685V884H1682ZM1685,884H1697V887H1685ZM1697,887H1793V890H1697ZM1793,884H1799V887H1793ZM1799,881H1808V884H1799ZM1808,884H1814V887H1808ZM1814,887H1832V890H1814ZM1832,884H1847V887H1832ZM1847,881H1850V884H1847ZM1850,878H1853V884H1850ZM1853.2,869H1855.8V878H1853.2ZM1856.5,851H1858.5V869H1856.5ZM1859.5,827H1861.5V851H1859.5ZM1862.5,809H1864.5V827H1862.5ZM1865.5,809H1867.5V821H1865.5ZM1868.5,821H1870.5V845H1868.5ZM1871.5,845H1873.5V866H1871.5ZM1874.5,866H1876.5V878H1874.5ZM1877,878H1880V881H1877ZM1880,881H1883V884H1880ZM1883,884H1898V887H1883ZM1898,887H1964V890H1898ZM1964,884H1973V887H1964ZM1973,881H1976V884H1973ZM1976,878H1979V881H1976ZM1979,875H1982V878H1979ZM1982,878H1985V881H1982ZM1985,881H1988V884H1985ZM1988,884H2012V887H1988ZM2012,881H2015V884H2012ZM2015,875H2018V881H2015ZM2018.2,866H2020.8V875H2018.2ZM2021.5,845H2023.5V866H2021.5ZM2024.5,818H2026.5V845H2024.5ZM2027.5,806H2029.5V818H2027.5ZM2030.5,806H2032.5V824H2030.5ZM2033.5,824H2035.5V848H2033.5ZM2036.5,848H2038.5V866H2036.5ZM2039.5,866H2041.5V878H2039.5ZM2042,878H2048V881H2042ZM2048,881H2051V884H2048ZM2051,878H2054V881H2051ZM2054,875H2057V881H2054ZM2057.2,866H2059.8V875H2057.2ZM2060.5,848H2062.5V866H2060.5ZM2063.5,830H2065.5V848H2063.5ZM2066,827H2069V830H2066ZM2069.5,827H2071.5V845H2069.5ZM2072.5,845H2074.5V863H2072.5ZM2075.5,863H2077.5V875H2075.5ZM2078,875H2081V881H2078ZM2081,881H2084V884H2081ZM2084,884H2102V887H2084ZM2102,887H2162V890H2102ZM2162,884H2168V887H2162ZM2168,881H2171V884H2168ZM2171,878H2174V881H2171ZM2174,875H2180V878H2174ZM2180,878H2183V881H2180ZM2183,881H2186V884H2183ZM2186,884H2192V887H2186ZM2192,887H2282V890H2192ZM2282,884H2303V887H2282ZM2303,887H2309V890H2303ZM2309,884H2318V887H2309ZM2318,881H2321V884H2318ZM2321,875H2324V881H2321ZM2324,875H2330V878H2324ZM2330,875H2333V881H2330ZM2333,881H2336V884H2333ZM2336,884H2360V887H2336ZM2360,887H2363V890H2360Z" fill="#ff00ff" stroke="none"/>
<path d="M246,887H425V890H246ZM425,884H437V887H425ZM437,887H515V890H437ZM515,884H518V887H515ZM518,878H521V884H518ZM521,875H524V878H521ZM524,875H527V881H524ZM527,881H530V884H527ZM530,884H533V887H530ZM533,887H860V890H533ZM860,884H866V887H860ZM866,881H869V884H866ZM869,884H878V887H869ZM878,887H938V890H878ZM938,884H944V887H938ZM944.2,875H946.8V884H944.2ZM947,872H950V875H947ZM950,872H953V878H950ZM953,878H956V884H953ZM956,884H962V887H956ZM962,887H980V890H962ZM980,884H992V887H980ZM992,881H995V884H992ZM995.5,866H997.5V881H995.5ZM998.5,836H1000.5V866H998.5ZM1001.5,803H1003.5V836H1001.5ZM1004.5,788H1006.5V803H1004.5ZM1007.5,797H1009.5V842H1007.5ZM1010.5,842H1012.5V872H1010.5ZM1013.2,872H1015.8V881H1013.2ZM1016,881H1019V884H1016ZM1019,884H1028V887H1019ZM1028,887H1328V890H1028ZM1328,884H1334V887H1328ZM1334,878H1337V884H1334ZM1337.2,869H1339.8V878H1337.2ZM1340,863H1343V869H1340ZM1343,863H1346V866H1343ZM1346.5,866H1348.5V878H1346.5ZM1349,878H1352V884H1349ZM1352,884H1358V887H1352ZM1358,887H1493V890H1358ZM1493,884H1502V887H1493ZM1502,887H1607V890H1502ZM1607,884H1613V887H1607ZM1613,878H1616V884H1613ZM1616.2,869H1618.8V878H1616.2ZM1619,866H1622V869H1619ZM1622,869H1625V875H1622ZM1625.2,875H1627.8V884H1625.2ZM1628,884H1634V887H1628ZM1634,887H1796V890H1634ZM1796,884H1802V887H1796ZM1802,878H1805V884H1802ZM1805,875H1811V878H1805ZM1811,878H1814V884H1811ZM1814,884H1820V887H1814ZM1820,887H1955V890H1820ZM1955,884H1958V887H1955ZM1958,881H1970V884H1958ZM1970,884H1973V887H1970ZM1973,887H1994V890H1973ZM1994,884H2000V887H1994ZM2000,881H2003V884H2000ZM2003,878H2006V881H2003ZM2006,878H2009V884H2006ZM2009,884H2015V887H2009ZM2015,887H2240V890H2015ZM2240,884H2246V887H2240ZM2246,881H2249V884H2246ZM2249,884H2255V887H2249ZM2255,887H2363V890H2255Z" fill="#008000" stroke="none"/>
<path d="M262,887H626V890H262ZM626,884H638V887H626ZM638,878H641V884H638ZM641.5,860H643.5V878H641.5ZM644.5,824H646.5V860H644.5ZM647.5,806H649.5V824H647.5ZM650.5,806H652.5V836H650.5ZM653.5,836H655.5V866H653.5ZM656.5,866H658.5V881H656.5ZM659,881H662V884H659ZM662,884H671V887H662ZM671,887H1097V890H671ZM1097,884H1100V887H1097ZM1100,881H1103V884H1100ZM1103,878H1106V881H1103ZM1106,875H1109V878H1106ZM1109,878H1112V884H1109ZM1112,884H1115V887H1112ZM1115,887H1178V890H1115ZM1178,884H1181V887H1178ZM1181,881H1184V884H1181ZM1184,878H1187V881H1184ZM1187,881H1190V884H1187ZM1190,884H1193V887H1190ZM1193,887H1406V890H1193ZM1406,884H1412V887H1406ZM1412,881H1418V884H1412ZM1418,884H1424V887H1418ZM1424,887H1457V890H1424ZM1457,884H1460V887H1457ZM1460,881H1469V884H1460ZM1469,884H1472V887H1469ZM1472,887H2027V890H1472ZM2027,884H2030V887H2027ZM2030,881H2039V884H2030ZM2039,884H2042V887H2039ZM2042,887H2192V890H2042ZM2192,884H2195V887H2192ZM2195,881H2207V884H2195ZM2207,884H2210V887H2207ZM2210,887H2363V890H2210Z" fill="#000000" stroke="none"/>
<path d="M262,887H869V890H262ZM869,884H881V887H869ZM881,881H884V884H881ZM884.5,869H886.5V881H884.5ZM887.5,839H889.5V869H887.5ZM890.5,788H892.5V839H890.5ZM893.5,782H895.5V800H893.5ZM896.5,800H898.5V848H896.5ZM899.5,848H901.5V875H899.5ZM902,875H905V881H902ZM905,881H908V884H905ZM908,884H923V887H908ZM923,887H941V890H923ZM941,884H959V887H941ZM959,881H962V884H959ZM962.2,872H964.8V881H962.2ZM965.5,833H967.5V872H965.5ZM968.5,767H970.5V833H968.5ZM971.5,761H973.5V794H971.5ZM974.5,794H976.5V857H974.5ZM977.5,857H979.5V878H977.5ZM980,878H983V881H980ZM983,881H986V884H983ZM986,884H1004V887H986ZM1004,881H1013V884H1004ZM1013,878H1016V881H1013ZM1016,872H1019V878H1016ZM1019.5,857H1021.5V872H1019.5ZM1022.5,803H1024.5V857H1022.5ZM1025.5,614H1027.5V803H1025.5ZM1028.5,425H1030.5V614H1028.5ZM1031.5,431H1033.5V650H1031.5ZM1034.5,650H1036.5V818H1034.5ZM1037.5,818H1039.5V860H1037.5ZM1040.5,860H1042.5V872H1040.5ZM1043,872H1046V878H1043ZM1046,878H1049V881H1046ZM1049,881H1055V884H1049ZM1055,884H1073V887H1055ZM1073,887H1355V890H1073ZM1355,884H1364V887H1355ZM1364,881H1367V884H1364ZM1367.5,869H1369.5V881H1367.5ZM1370.5,845H1372.5V869H1370.5ZM1373.5,821H1375.5V845H1373.5ZM1376.5,821H1378.5V836H1376.5ZM1379.5,836H1381.5V863H1379.5ZM1382.5,863H1384.5V878H1382.5ZM1385,878H1388V884H1385ZM1388,884H1397V887H1388ZM1397,887H1643V890H1397ZM1643,884H1652V887H1643ZM1652,878H1655V884H1652ZM1655.5,860H1657.5V878H1655.5ZM1658.5,830H1660.5V860H1658.5ZM1661.2,821H1663.8V830H1661.2ZM1664.5,824H1666.5V851H1664.5ZM1667.5,851H1669.5V872H1667.5ZM1670.2,872H1672.8V881H1670.2ZM1673,881H1676V884H1673ZM1676,884H1685V887H1676ZM1685,887H1832V890H1685ZM1832,884H1841V887H1832ZM1841,881H1844V884H1841ZM1844,875H1847V881H1844ZM1847.5,854H1849.5V875H1847.5ZM1850.5,824H1852.5V854H1850.5ZM1853.5,809H1855.5V824H1853.5ZM1856.5,812H1858.5V836H1856.5ZM1859.5,836H1861.5V866H1859.5ZM1862.5,866H1864.5V878H1862.5ZM1865,878H1868V884H1865ZM1868,884H1880V887H1868ZM1880,887H1964V890H1880ZM1964,884H1967V887H1964ZM1967,881H1970V884H1967ZM1970,878H1979V881H1970ZM1979,881H1982V884H1979ZM1982,884H2006V887H1982ZM2006,881H2009V884H2006ZM2009,875H2012V881H2009ZM2012.5,857H2014.5V875H2012.5ZM2015.5,827H2017.5V857H2015.5ZM2018.5,812H2020.5V827H2018.5ZM2021.5,812H2023.5V836H2021.5ZM2024.5,836H2026.5V863H2024.5ZM2027.5,863H2029.5V878H2027.5ZM2030,878H2033V881H2030ZM2033,881H2036V884H2033ZM2036,884H2045V887H2036ZM2045,881H2048V884H2045ZM2048,878H2051V881H2048ZM2051.5,863H2053.5V878H2051.5ZM2054.5,842H2056.5V863H2054.5ZM2057.2,833H2059.8V842H2057.2ZM2060.5,833H2062.5V848H2060.5ZM2063.5,848H2065.5V869H2063.5ZM2066.2,869H2068.8V878H2066.2ZM2069,878H2072V884H2069ZM2072,884H2084V887H2072ZM2084,887H2150V890H2084ZM2150,884H2156V887H2150ZM2156,878H2159V884H2156ZM2159,875H2165V878H2159ZM2165,878H2168V881H2165ZM2168,881H2171V884H2168ZM2171,884H2177V887H2171ZM2177,887H2303V890H2177ZM2303,884H2306V887H2303ZM2306,881H2309V884H2306ZM2309,878H2312V881H2309ZM2312,875H2318V878H2312ZM2318,878H2321V881H2318ZM2321,881H2324V884H2321ZM2324,884H2327V887H2324ZM2327,887H2363V890H2327Z" fill="#500050" stroke="none"/>
<path d="M262,887H794V890H262ZM794,884H800V887H794ZM800,887H983V890H800ZM983,884H989V887H983ZM989,881H992V884H989ZM992.5,863H994.5V881H992.5ZM995.5,830H997.5V863H995.5ZM998.2,821H1000.8V830H998.2ZM1001.5,827H1003.5V860H1001.5ZM1004.5,860H1006.5V878H1004.5ZM1007,878H1010V884H1007ZM1010,884H1016V887H1010ZM1016,887H1730V890H1016ZM1730,884H1736V887H1730ZM1736,881H1739V884H1736ZM1739,875H1742V881H1739ZM1742,872H1745V875H1742ZM1745,872H1748V878H1745ZM1748,878H1751V884H1748ZM1751,884H1757V887H1751ZM1757,887H2102V890H1757ZM2102,884H2108V887H2102ZM2108,881H2111V884H2108ZM2111,878H2117V881H2111ZM2117,881H2120V884H2117ZM2120,884H2126V887H2120ZM2126,887H2225V890H2126ZM2225,884H2231V887H2225ZM2231,881H2234V884H2231ZM2234,878H2237V881H2234ZM2237,881H2240V884H2237ZM2240,884H2246V887H2240ZM2246,887H2363V890H2246Z" fill="#808040" stroke="none"/>
</g>
<g>
<rect x="907.6" y="985.4" width="3" height="22.7" fill="#0000ff"/>
<rect x="1067.3" y="985.4" width="3" height="22.7" fill="#0000ff"/>
<rect x="1580.6" y="985.4" width="3" height="22.7" fill="#0000ff"/>
<rect x="1909.3" y="985.4" width="3" height="22.7" fill="#0000ff"/>
<rect x="2012.3" y="985.4" width="3" height="22.7" fill="#0000ff"/>
<rect x="404.0" y="1006.4" width="3" height="22.2" fill="#ff00ff"/>
<rect x="632.2" y="1006.4" width="3" height="22.2" fill="#ff00ff"/>
<rect x="758.4" y="1006.4" width="3" height="22.2" fill="#ff00ff"/>
<rect x="893.6" y="1006.4" width="3" height="22.2" fill="#ff00ff"/>
<rect x="974.3" y="1006.4" width="3" height="22.2" fill="#ff00ff"/>
<rect x="1031.3" y="1006.4" width="3" height="22.2" fill="#ff00ff"/>
<rect x="1085.8" y="1006.4" width="3" height="22.2" fill="#ff00ff"/>
<rect x="1221.9" y="1006.4" width="3" height="22.2" fill="#ff00ff"/>
<rect x="1286.1" y="1006.4" width="3" height="22.2" fill="#ff00ff"/>
<rect x="1334.4" y="1006.4" width="3" height="22.2" fill="#ff00ff"/>
<rect x="1380.3" y="1006.4" width="3" height="22.2" fill="#ff00ff"/>
<rect x="1410.2" y="1006.4" width="3" height="22.2" fill="#ff00ff"/>
<rect x="1512.7" y="1006.4" width="3" height="22.2" fill="#ff00ff"/>
<rect x="1621.2" y="1006.4" width="3" height="22.2" fill="#ff00ff"/>
<rect x="1638.1" y="1006.4" width="3" height="22.2" fill="#ff00ff"/>
<rect x="1666.0" y="1006.4" width="3" height="22.2" fill="#ff00ff"/>
<rect x="1744.9" y="1006.4" width="3" height="22.2" fill="#ff00ff"/>
<rect x="1798.1" y="1006.4" width="3" height="22.2" fill="#ff00ff"/>
<rect x="1836.5" y="1006.4" width="3" height="22.2" fill="#ff00ff"/>
<rect x="1862.3" y="1006.4" width="3" height="22.2" fill="#ff00ff"/>
<rect x="1976.2" y="1006.4" width="3" height="22.2" fill="#ff00ff"/>
<rect x="2026.2" y="1006.4" width="3" height="22.2" fill="#ff00ff"/>
<rect x="2065.0" y="1006.4" width="3" height="22.2" fill="#ff00ff"/>
<rect x="2087.2" y="1006.4" width="3" height="22.2" fill="#ff00ff"/>
<rect x="2101.4" y="1006.4" width="3" height="22.2" fill="#ff00ff"/>
<rect x="2172.3" y="1006.4" width="3" height="22.2" fill="#ff00ff"/>
<rect x="2198.4" y="1006.4" width="3" height="22.2" fill="#ff00ff"/>
<rect x="2236.2" y="1006.4" width="3" height="22.2" fill="#ff00ff"/>
<rect x="2247.7" y="1006.4" width="3" height="22.2" fill="#ff00ff"/>
<rect x="2286.3" y="1006.4" width="3" height="22.2" fill="#ff00ff"/>
<rect x="2320.4" y="1006.4" width="3" height="22.2" fill="#ff00ff"/>
<rect x="2344.5" y="1006.4" width="3" height="22.2" fill="#ff00ff"/>
<rect x="428.6" y="1026.9" width="3" height="22.2" fill="#009020"/>
<rect x="464.7" y="1026.9" width="3" height="22.2" fill="#009020"/>
<rect x="522.2" y="1026.9" width="3" height="22.2" fill="#009020"/>
<rect x="665.5" y="1026.9" width="3" height="22.2" fill="#009020"/>
<rect x="861.8" y="1026.9" width="3" height="22.2" fill="#009020"/>
<rect x="868.5" y="1026.9" width="3" height="22.2" fill="#009020"/>
<rect x="946.4" y="1026.9" width="3" height="22.2" fill="#009020"/>
<rect x="1000.1" y="1026.9" width="3" height="22.2" fill="#009020"/>
<rect x="1018.3" y="1026.9" width="3" height="22.2" fill="#009020"/>
<rect x="1050.7" y="1026.9" width="3" height="22.2" fill="#009020"/>
<rect x="1088.2" y="1026.9" width="3" height="22.2" fill="#009020"/>
<rect x="1140.0" y="1026.9" width="3" height="22.2" fill="#009020"/>
<rect x="1277.4" y="1026.9" width="3" height="22.2" fill="#009020"/>
<rect x="1335.9" y="1026.9" width="3" height="22.2" fill="#009020"/>
<rect x="1338.9" y="1026.9" width="3" height="22.2" fill="#009020"/>
<rect x="1398.2" y="1026.9" width="3" height="22.2" fill="#009020"/>
<rect x="1423.9" y="1026.9" width="3" height="22.2" fill="#009020"/>
<rect x="1452.7" y="1026.9" width="3" height="22.2" fill="#009020"/>
<rect x="1493.8" y="1026.9" width="3" height="22.2" fill="#009020"/>
<rect x="1496.3" y="1026.9" width="3" height="22.2" fill="#009020"/>
<rect x="1602.0" y="1026.9" width="3" height="22.2" fill="#009020"/>
<rect x="1612.2" y="1026.9" width="3" height="22.2" fill="#009020"/>
<rect x="1616.7" y="1026.9" width="3" height="22.2" fill="#009020"/>
<rect x="1638.1" y="1026.9" width="3" height="22.2" fill="#009020"/>
<rect x="1662.5" y="1026.9" width="3" height="22.2" fill="#009020"/>
<rect x="1706.1" y="1026.9" width="3" height="22.2" fill="#009020"/>
<rect x="1767.3" y="1026.9" width="3" height="22.2" fill="#009020"/>
<rect x="1804.6" y="1026.9" width="3" height="22.2" fill="#009020"/>
<rect x="1816.1" y="1026.9" width="3" height="22.2" fill="#009020"/>
<rect x="1886.5" y="1026.9" width="3" height="22.2" fill="#009020"/>
<rect x="1902.4" y="1026.9" width="3" height="22.2" fill="#009020"/>
<rect x="1916.4" y="1026.9" width="3" height="22.2" fill="#009020"/>
<rect x="1959.0" y="1026.9" width="3" height="22.2" fill="#009020"/>
<rect x="1964.0" y="1026.9" width="3" height="22.2" fill="#009020"/>
<rect x="2001.1" y="1026.9" width="3" height="22.2" fill="#009020"/>
<rect x="2012.3" y="1026.9" width="3" height="22.2" fill="#009020"/>
<rect x="2033.2" y="1026.9" width="3" height="22.2" fill="#009020"/>
<rect x="2094.2" y="1026.9" width="3" height="22.2" fill="#009020"/>
<rect x="2102.4" y="1026.9" width="3" height="22.2" fill="#009020"/>
<rect x="2148.4" y="1026.9" width="3" height="22.2" fill="#009020"/>
<rect x="2172.3" y="1026.9" width="3" height="22.2" fill="#009020"/>
<rect x="2188.0" y="1026.9" width="3" height="22.2" fill="#009020"/>
<rect x="2197.4" y="1026.9" width="3" height="22.2" fill="#009020"/>
<rect x="2244.5" y="1026.9" width="3" height="22.2" fill="#009020"/>
<rect x="2293.2" y="1026.9" width="3" height="22.2" fill="#009020"/>
<rect x="2312.6" y="1026.9" width="3" height="22.2" fill="#009020"/>
<rect x="2337.8" y="1026.9" width="3" height="22.2" fill="#009020"/>
<rect x="644.4" y="1047.4" width="3" height="22.7" fill="#000000"/>
<rect x="1100.7" y="1047.4" width="3" height="22.7" fill="#000000"/>
<rect x="1178.6" y="1047.4" width="3" height="22.7" fill="#000000"/>
<rect x="1409.9" y="1047.4" width="3" height="22.7" fill="#000000"/>
<rect x="1459.9" y="1047.4" width="3" height="22.7" fill="#000000"/>
<rect x="1652.1" y="1047.4" width="3" height="22.7" fill="#000000"/>
<rect x="2030.2" y="1047.4" width="3" height="22.7" fill="#000000"/>
<rect x="2112.3" y="1047.4" width="3" height="22.7" fill="#000000"/>
<rect x="2197.4" y="1047.4" width="3" height="22.7" fill="#000000"/>
<rect x="2290.5" y="1047.4" width="3" height="22.7" fill="#000000"/>
<rect x="892.1" y="1068.4" width="3" height="22.7" fill="#500050"/>
<rect x="967.0" y="1068.4" width="3" height="22.7" fill="#500050"/>
<rect x="1025.8" y="1068.4" width="3" height="22.7" fill="#500050"/>
<rect x="1374.1" y="1068.4" width="3" height="22.7" fill="#500050"/>
<rect x="1658.5" y="1068.4" width="3" height="22.7" fill="#500050"/>
<rect x="1849.3" y="1068.4" width="3" height="22.7" fill="#500050"/>
<rect x="1969.0" y="1068.4" width="3" height="22.7" fill="#500050"/>
<rect x="2016.3" y="1068.4" width="3" height="22.7" fill="#500050"/>
<rect x="2055.6" y="1068.4" width="3" height="22.7" fill="#500050"/>
<rect x="2158.4" y="1068.4" width="3" height="22.7" fill="#500050"/>
<rect x="2311.4" y="1068.4" width="3" height="22.7" fill="#500050"/>
<rect x="536.1" y="1089.4" width="3" height="19.2" fill="#808040"/>
<rect x="793.3" y="1089.4" width="3" height="19.2" fill="#808040"/>
<rect x="996.4" y="1089.4" width="3" height="19.2" fill="#808040"/>
<rect x="1170.4" y="1089.4" width="3" height="19.2" fill="#808040"/>
<rect x="1327.9" y="1089.4" width="3" height="19.2" fill="#808040"/>
<rect x="1470.9" y="1089.4" width="3" height="19.2" fill="#808040"/>
<rect x="1740.7" y="1089.4" width="3" height="19.2" fill="#808040"/>
<rect x="1866.1" y="1089.4" width="3" height="19.2" fill="#808040"/>
<rect x="1988.4" y="1089.4" width="3" height="19.2" fill="#808040"/>
<rect x="2109.6" y="1089.4" width="3" height="19.2" fill="#808040"/>
<rect x="2229.8" y="1089.4" width="3" height="19.2" fill="#808040"/>
<rect x="2348.0" y="1089.4" width="3" height="19.2" fill="#808040"/>
</g>
<rect x="194.6" y="54.8" width="2.8" height="1055.1000000000001" fill="#000"/>
<rect x="194.6" y="1107.1" width="2170.4" height="2.8" fill="#000"/>
<g>
<rect x="188.4" y="1097.0" width="6.0" height="2.4" fill="#999"/>
<rect x="188.4" y="1085.4" width="6.0" height="2.4" fill="#999"/>
<rect x="182.3" y="1073.5" width="12.5" height="2.8" fill="#111"/>
<rect x="188.4" y="1062.2" width="6.0" height="2.4" fill="#999"/>
<rect x="188.4" y="1050.7" width="6.0" height="2.4" fill="#999"/>
<rect x="188.4" y="1039.2" width="6.0" height="2.4" fill="#999"/>
<rect x="182.3" y="1027.5" width="12.5" height="2.8" fill="#111"/>
<rect x="188.4" y="1015.8" width="6.0" height="2.4" fill="#999"/>
<rect x="188.4" y="1004.0" width="6.0" height="2.4" fill="#999"/>
<rect x="188.4" y="992.1" width="6.0" height="2.4" fill="#999"/>
<rect x="182.3" y="980.0" width="12.5" height="2.8" fill="#111"/>
<rect x="188.4" y="968.7" width="6.0" height="2.4" fill="#999"/>
<rect x="188.4" y="957.2" width="6.0" height="2.4" fill="#999"/>
<rect x="188.4" y="945.7" width="6.0" height="2.4" fill="#999"/>
<rect x="182.3" y="934.0" width="12.5" height="2.8" fill="#111"/>
<rect x="188.4" y="922.4" width="6.0" height="2.4" fill="#999"/>
<rect x="188.4" y="910.6" width="6.0" height="2.4" fill="#999"/>
<rect x="188.4" y="898.9" width="6.0" height="2.4" fill="#999"/>
<rect x="182.3" y="886.9" width="12.5" height="2.8" fill="#111"/>
<rect x="188.4" y="875.6" width="6.0" height="2.4" fill="#999"/>
<rect x="188.4" y="864.1" width="6.0" height="2.4" fill="#999"/>
<rect x="188.4" y="852.7" width="6.0" height="2.4" fill="#999"/>
<rect x="182.3" y="841.0" width="12.5" height="2.8" fill="#111"/>
<rect x="188.4" y="829.3" width="6.0" height="2.4" fill="#999"/>
<rect x="188.4" y="817.4" width="6.0" height="2.4" fill="#999"/>
<rect x="188.4" y="805.6" width="6.0" height="2.4" fill="#999"/>
<rect x="182.3" y="793.5" width="12.5" height="2.8" fill="#111"/>
<rect x="188.4" y="782.2" width="6.0" height="2.4" fill="#999"/>
<rect x="188.4" y="770.7" width="6.0" height="2.4" fill="#999"/>
<rect x="188.4" y="759.2" width="6.0" height="2.4" fill="#999"/>
<rect x="182.3" y="747.5" width="12.5" height="2.8" fill="#111"/>
<rect x="188.4" y="735.8" width="6.0" height="2.4" fill="#999"/>
<rect x="188.4" y="723.9" width="6.0" height="2.4" fill="#999"/>
<rect x="188.4" y="712.1" width="6.0" height="2.4" fill="#999"/>
<rect x="182.3" y="700.0" width="12.5" height="2.8" fill="#111"/>
<rect x="188.4" y="688.7" width="6.0" height="2.4" fill="#999"/>
<rect x="188.4" y="677.2" width="6.0" height="2.4" fill="#999"/>
<rect x="188.4" y="665.7" width="6.0" height="2.4" fill="#999"/>
<rect x="182.3" y="654.0" width="12.5" height="2.8" fill="#111"/>
<rect x="188.4" y="642.5" width="6.0" height="2.4" fill="#999"/>
<rect x="188.4" y="630.8" width="6.0" height="2.4" fill="#999"/>
<rect x="188.4" y="619.2" width="6.0" height="2.4" fill="#999"/>
<rect x="182.3" y="607.3" width="12.5" height="2.8" fill="#111"/>
<rect x="188.4" y="596.0" width="6.0" height="2.4" fill="#999"/>
<rect x="188.4" y="584.5" width="6.0" height="2.4" fill="#999"/>
<rect x="188.4" y="573.1" width="6.0" height="2.4" fill="#999"/>
<rect x="182.3" y="561.4" width="12.5" height="2.8" fill="#111"/>
<rect x="188.4" y="549.7" width="6.0" height="2.4" fill="#999"/>
<rect x="188.4" y="537.8" width="6.0" height="2.4" fill="#999"/>
<rect x="188.4" y="525.9" width="6.0" height="2.4" fill="#999"/>
<rect x="182.3" y="513.8" width="12.5" height="2.8" fill="#111"/>
<rect x="188.4" y="502.5" width="6.0" height="2.4" fill="#999"/>
<rect x="188.4" y="491.1" width="6.0" height="2.4" fill="#999"/>
<rect x="188.4" y="479.6" width="6.0" height="2.4" fill="#999"/>
<rect x="182.3" y="467.9" width="12.5" height="2.8" fill="#111"/>
<rect x="188.4" y="456.1" width="6.0" height="2.4" fill="#999"/>
<rect x="188.4" y="444.0" width="6.0" height="2.4" fill="#999"/>
<rect x="188.4" y="432.0" width="6.0" height="2.4" fill="#999"/>
<rect x="182.3" y="419.7" width="12.5" height="2.8" fill="#111"/>
<rect x="188.4" y="408.7" width="6.0" height="2.4" fill="#999"/>
<rect x="188.4" y="397.4" width="6.0" height="2.4" fill="#999"/>
<rect x="188.4" y="386.2" width="6.0" height="2.4" fill="#999"/>
<rect x="182.3" y="374.7" width="12.5" height="2.8" fill="#111"/>
<rect x="188.4" y="362.7" width="6.0" height="2.4" fill="#999"/>
<rect x="188.4" y="350.6" width="6.0" height="2.4" fill="#999"/>
<rect x="188.4" y="338.4" width="6.0" height="2.4" fill="#999"/>
<rect x="182.3" y="326.0" width="12.5" height="2.8" fill="#111"/>
<rect x="188.4" y="315.1" width="6.0" height="2.4" fill="#999"/>
<rect x="188.4" y="303.9" width="6.0" height="2.4" fill="#999"/>
<rect x="188.4" y="292.8" width="6.0" height="2.4" fill="#999"/>
<rect x="182.3" y="281.5" width="12.5" height="2.8" fill="#111"/>
<rect x="188.4" y="269.5" width="6.0" height="2.4" fill="#999"/>
<rect x="188.4" y="257.2" width="6.0" height="2.4" fill="#999"/>
<rect x="188.4" y="245.0" width="6.0" height="2.4" fill="#999"/>
<rect x="182.3" y="232.6" width="12.5" height="2.8" fill="#111"/>
<rect x="188.4" y="221.7" width="6.0" height="2.4" fill="#999"/>
<rect x="188.4" y="210.6" width="6.0" height="2.4" fill="#999"/>
<rect x="188.4" y="199.5" width="6.0" height="2.4" fill="#999"/>
<rect x="182.3" y="188.2" width="12.5" height="2.8" fill="#111"/>
<rect x="188.4" y="176.3" width="6.0" height="2.4" fill="#999"/>
<rect x="188.4" y="164.2" width="6.0" height="2.4" fill="#999"/>
<rect x="188.4" y="152.1" width="6.0" height="2.4" fill="#999"/>
<rect x="182.3" y="139.8" width="12.5" height="2.8" fill="#111"/>
<rect x="188.4" y="128.8" width="6.0" height="2.4" fill="#999"/>
<rect x="188.4" y="117.6" width="6.0" height="2.4" fill="#999"/>
<rect x="188.4" y="106.5" width="6.0" height="2.4" fill="#999"/>
<rect x="182.3" y="95.1" width="12.5" height="2.8" fill="#111"/>
<rect x="188.4" y="83.6" width="6.0" height="2.4" fill="#999"/>
<rect x="188.4" y="72.0" width="6.0" height="2.4" fill="#999"/>
<rect x="188.4" y="60.3" width="6.0" height="2.4" fill="#999"/>
</g>
<g>
<rect x="195.0" y="1108.5" width="2.8" height="13.5" fill="#111"/>
<rect x="229.6" y="1110.0" width="2.6" height="7" fill="#999"/>
<rect x="264.1" y="1110.0" width="2.6" height="7" fill="#999"/>
<rect x="298.5" y="1110.0" width="2.6" height="7" fill="#999"/>
<rect x="332.9" y="1108.5" width="2.8" height="13.5" fill="#111"/>
<rect x="366.4" y="1110.0" width="2.6" height="7" fill="#999"/>
<rect x="399.8" y="1110.0" width="2.6" height="7" fill="#999"/>
<rect x="433.2" y="1110.0" width="2.6" height="7" fill="#999"/>
<rect x="466.5" y="1108.5" width="2.8" height="13.5" fill="#111"/>
<rect x="500.4" y="1110.0" width="2.6" height="7" fill="#999"/>
<rect x="534.2" y="1110.0" width="2.6" height="7" fill="#999"/>
<rect x="568.0" y="1110.0" width="2.6" height="7" fill="#999"/>
<rect x="601.7" y="1108.5" width="2.8" height="13.5" fill="#111"/>
<rect x="636.2" y="1110.0" width="2.6" height="7" fill="#999"/>
<rect x="670.5" y="1110.0" width="2.6" height="7" fill="#999"/>
<rect x="704.9" y="1110.0" width="2.6" height="7" fill="#999"/>
<rect x="739.1" y="1108.5" width="2.8" height="13.5" fill="#111"/>
<rect x="772.7" y="1110.0" width="2.6" height="7" fill="#999"/>
<rect x="806.1" y="1110.0" width="2.6" height="7" fill="#999"/>
<rect x="839.5" y="1110.0" width="2.6" height="7" fill="#999"/>
<rect x="872.9" y="1108.5" width="2.8" height="13.5" fill="#111"/>
<rect x="906.6" y="1110.0" width="2.6" height="7" fill="#999"/>
<rect x="940.2" y="1110.0" width="2.6" height="7" fill="#999"/>
<rect x="973.8" y="1110.0" width="2.6" height="7" fill="#999"/>
<rect x="1007.3" y="1108.5" width="2.8" height="13.5" fill="#111"/>
<rect x="1041.9" y="1110.0" width="2.6" height="7" fill="#999"/>
<rect x="1076.5" y="1110.0" width="2.6" height="7" fill="#999"/>
<rect x="1111.0" y="1110.0" width="2.6" height="7" fill="#999"/>
<rect x="1145.4" y="1108.5" width="2.8" height="13.5" fill="#111"/>
<rect x="1178.9" y="1110.0" width="2.6" height="7" fill="#999"/>
<rect x="1212.4" y="1110.0" width="2.6" height="7" fill="#999"/>
<rect x="1245.8" y="1110.0" width="2.6" height="7" fill="#999"/>
<rect x="1279.1" y="1108.5" width="2.8" height="13.5" fill="#111"/>
<rect x="1313.5" y="1110.0" width="2.6" height="7" fill="#999"/>
<rect x="1347.7" y="1110.0" width="2.6" height="7" fill="#999"/>
<rect x="1382.0" y="1110.0" width="2.6" height="7" fill="#999"/>
<rect x="1416.1" y="1108.5" width="2.8" height="13.5" fill="#111"/>
<rect x="1450.1" y="1110.0" width="2.6" height="7" fill="#999"/>
<rect x="1484.0" y="1110.0" width="2.6" height="7" fill="#999"/>
<rect x="1518.0" y="1110.0" width="2.6" height="7" fill="#999"/>
<rect x="1551.8" y="1108.5" width="2.8" height="13.5" fill="#111"/>
<rect x="1585.3" y="1110.0" width="2.6" height="7" fill="#999"/>
<rect x="1618.7" y="1110.0" width="2.6" height="7" fill="#999"/>
<rect x="1652.1" y="1110.0" width="2.6" height="7" fill="#999"/>
<rect x="1685.4" y="1108.5" width="2.8" height="13.5" fill="#111"/>
<rect x="1719.9" y="1110.0" width="2.6" height="7" fill="#999"/>
<rect x="1754.2" y="1110.0" width="2.6" height="7" fill="#999"/>
<rect x="1788.5" y="1110.0" width="2.6" height="7" fill="#999"/>
<rect x="1822.8" y="1108.5" width="2.8" height="13.5" fill="#111"/>
<rect x="1856.8" y="1110.0" width="2.6" height="7" fill="#999"/>
<rect x="1890.7" y="1110.0" width="2.6" height="7" fill="#999"/>
<rect x="1924.6" y="1110.0" width="2.6" height="7" fill="#999"/>
<rect x="1958.4" y="1108.5" width="2.8" height="13.5" fill="#111"/>
<rect x="1991.8" y="1110.0" width="2.6" height="7" fill="#999"/>
<rect x="2025.2" y="1110.0" width="2.6" height="7" fill="#999"/>
<rect x="2058.5" y="1110.0" width="2.6" height="7" fill="#999"/>
<rect x="2091.8" y="1108.5" width="2.8" height="13.5" fill="#111"/>
<rect x="2126.4" y="1110.0" width="2.6" height="7" fill="#999"/>
<rect x="2160.9" y="1110.0" width="2.6" height="7" fill="#999"/>
<rect x="2195.5" y="1110.0" width="2.6" height="7" fill="#999"/>
<rect x="2229.9" y="1108.5" width="2.8" height="13.5" fill="#111"/>
<rect x="2263.9" y="1110.0" width="2.6" height="7" fill="#999"/>
<rect x="2297.8" y="1110.0" width="2.6" height="7" fill="#999"/>
<rect x="2331.8" y="1110.0" width="2.6" height="7" fill="#999"/>
</g>
<g font-family="Liberation Sans, Arial, sans-serif" fill="#000" text-anchor="end">
<text font-size="36" x="180.3" y="901.9">0</text>
<text font-size="36" x="180.3" y="856.0">100</text>
<text font-size="36" x="180.3" y="808.5">200</text>
<text font-size="36" x="180.3" y="762.5">300</text>
<text font-size="36" x="180.3" y="715.0">400</text>
<text font-size="36" x="180.3" y="669.0">500</text>
<text font-size="36" x="180.3" y="622.3">600</text>
<text font-size="36" x="180.3" y="576.4">700</text>
<text font-size="36" x="180.3" y="528.8">800</text>
<text font-size="36" x="180.3" y="482.9">900</text>
<text font-size="32.5" x="179" y="430.7">1000</text>
<text font-size="32.5" x="179" y="385.7">1100</text>
<text font-size="32.5" x="179" y="337.0">1200</text>
<text font-size="32.5" x="179" y="292.5">1300</text>
<text font-size="32.5" x="179" y="243.6">1400</text>
<text font-size="32.5" x="179" y="199.2">1500</text>
<text font-size="32.5" x="179" y="150.8">1600</text>
<text font-size="32.5" x="179" y="106.1">1700</text>
<text font-size="34" x="178.5" y="1084.5" textLength="57" lengthAdjust="spacingAndGlyphs">400</text>
<text font-size="34" x="178.5" y="1038.5" textLength="57" lengthAdjust="spacingAndGlyphs">300</text>
<text font-size="34" x="178.5" y="991.0" textLength="57" lengthAdjust="spacingAndGlyphs">200</text>
<text font-size="34" x="178.5" y="945.0" textLength="57" lengthAdjust="spacingAndGlyphs">100</text>
</g>
<g font-family="Liberation Sans, Arial, sans-serif" font-size="32.5" fill="#000">
<text transform="translate(94.3,1081.3) scale(1.55,1.3)" x="0" y="0">−</text>
<text transform="translate(94.3,1035.3) scale(1.55,1.3)" x="0" y="0">−</text>
<text transform="translate(94.3,987.8) scale(1.55,1.3)" x="0" y="0">−</text>
<text transform="translate(94.3,941.8) scale(1.55,1.3)" x="0" y="0">−</text>
</g>
<g font-family="Liberation Sans, Arial, sans-serif" font-size="36" fill="#000" text-anchor="middle">
<text x="196.1" y="1156.3">10</text>
<text x="334.0" y="1156.3">15</text>
<text x="467.6" y="1156.3">20</text>
<text x="602.8" y="1156.3">25</text>
<text x="740.2" y="1156.3">30</text>
<text x="874.0" y="1156.3">35</text>
<text x="1008.4" y="1156.3">40</text>
<text x="1146.5" y="1156.3">45</text>
<text x="1280.2" y="1156.3">50</text>
<text x="1417.2" y="1156.3">55</text>
<text x="1552.9" y="1156.3">60</text>
<text x="1686.5" y="1156.3">65</text>
<text x="1823.9" y="1156.3">70</text>
<text x="1959.5" y="1156.3">75</text>
<text x="2092.9" y="1156.3">80</text>
<text x="2231.0" y="1156.3">85</text>
</g>
<text font-family="Liberation Sans, Arial, sans-serif" font-size="47.6" x="1140.6" y="1207.8" fill="#000">2Th Degrees</text>
<text font-family="Liberation Sans, Arial, sans-serif" font-size="48" transform="translate(69.5,582) rotate(-90)" text-anchor="middle" fill="#000">Counts</text>
<rect x="206.3" y="94.9" width="35.2" height="3.2" fill="#222"/>
<text font-family="Liberation Sans, Arial, sans-serif" font-size="48" x="253" y="110.5" fill="#000">14.4.xy</text>
<g font-family="Liberation Sans, Arial, sans-serif" font-size="48">
<text x="1662" y="109.6" fill="#0000ff" letter-spacing="0.1">TiC(Khamrabaevite)</text>
<text x="2110.5" y="109.6" fill="#0000ff" letter-spacing="0.3">19.01 %</text>
<text x="1662" y="168.6" fill="#ff00ff" letter-spacing="-0.8">AlTi3</text>
<text x="2110.5" y="168.6" fill="#ff00ff" letter-spacing="0.3">33.07 %</text>
<text x="1662" y="227.6" fill="#008000">Ti3O</text>
<text x="2110.5" y="227.6" fill="#008000" letter-spacing="0.3">7.15 %</text>
<text x="1662" y="287.7" fill="#000000">Graphite 3R</text>
<text x="2110.5" y="287.7" fill="#000000" letter-spacing="0.3">22.84 %</text>
<text x="1662" y="346.7" fill="#400040">Ti</text>
<text x="2110.5" y="346.7" fill="#400040" letter-spacing="0.3">13.29 %</text>
<text x="1662" y="406.4" fill="#808040" letter-spacing="-0.8">Al3Ti</text>
<text x="2110.5" y="406.4" fill="#808040" letter-spacing="0.3">4.64 %</text>
</g>
</g>
<g font-family="Liberation Serif, Times New Roman, serif" fill="#000"><text transform="translate(1142.6,1319.5) scale(0.86,1)" font-size="88">(</text><text x="1168.4" y="1319.6" font-size="88.4" font-weight="bold">d</text><text transform="translate(1221.4,1319.5) scale(0.86,1)" font-size="88">)</text></g>
</svg>
</body></html>
